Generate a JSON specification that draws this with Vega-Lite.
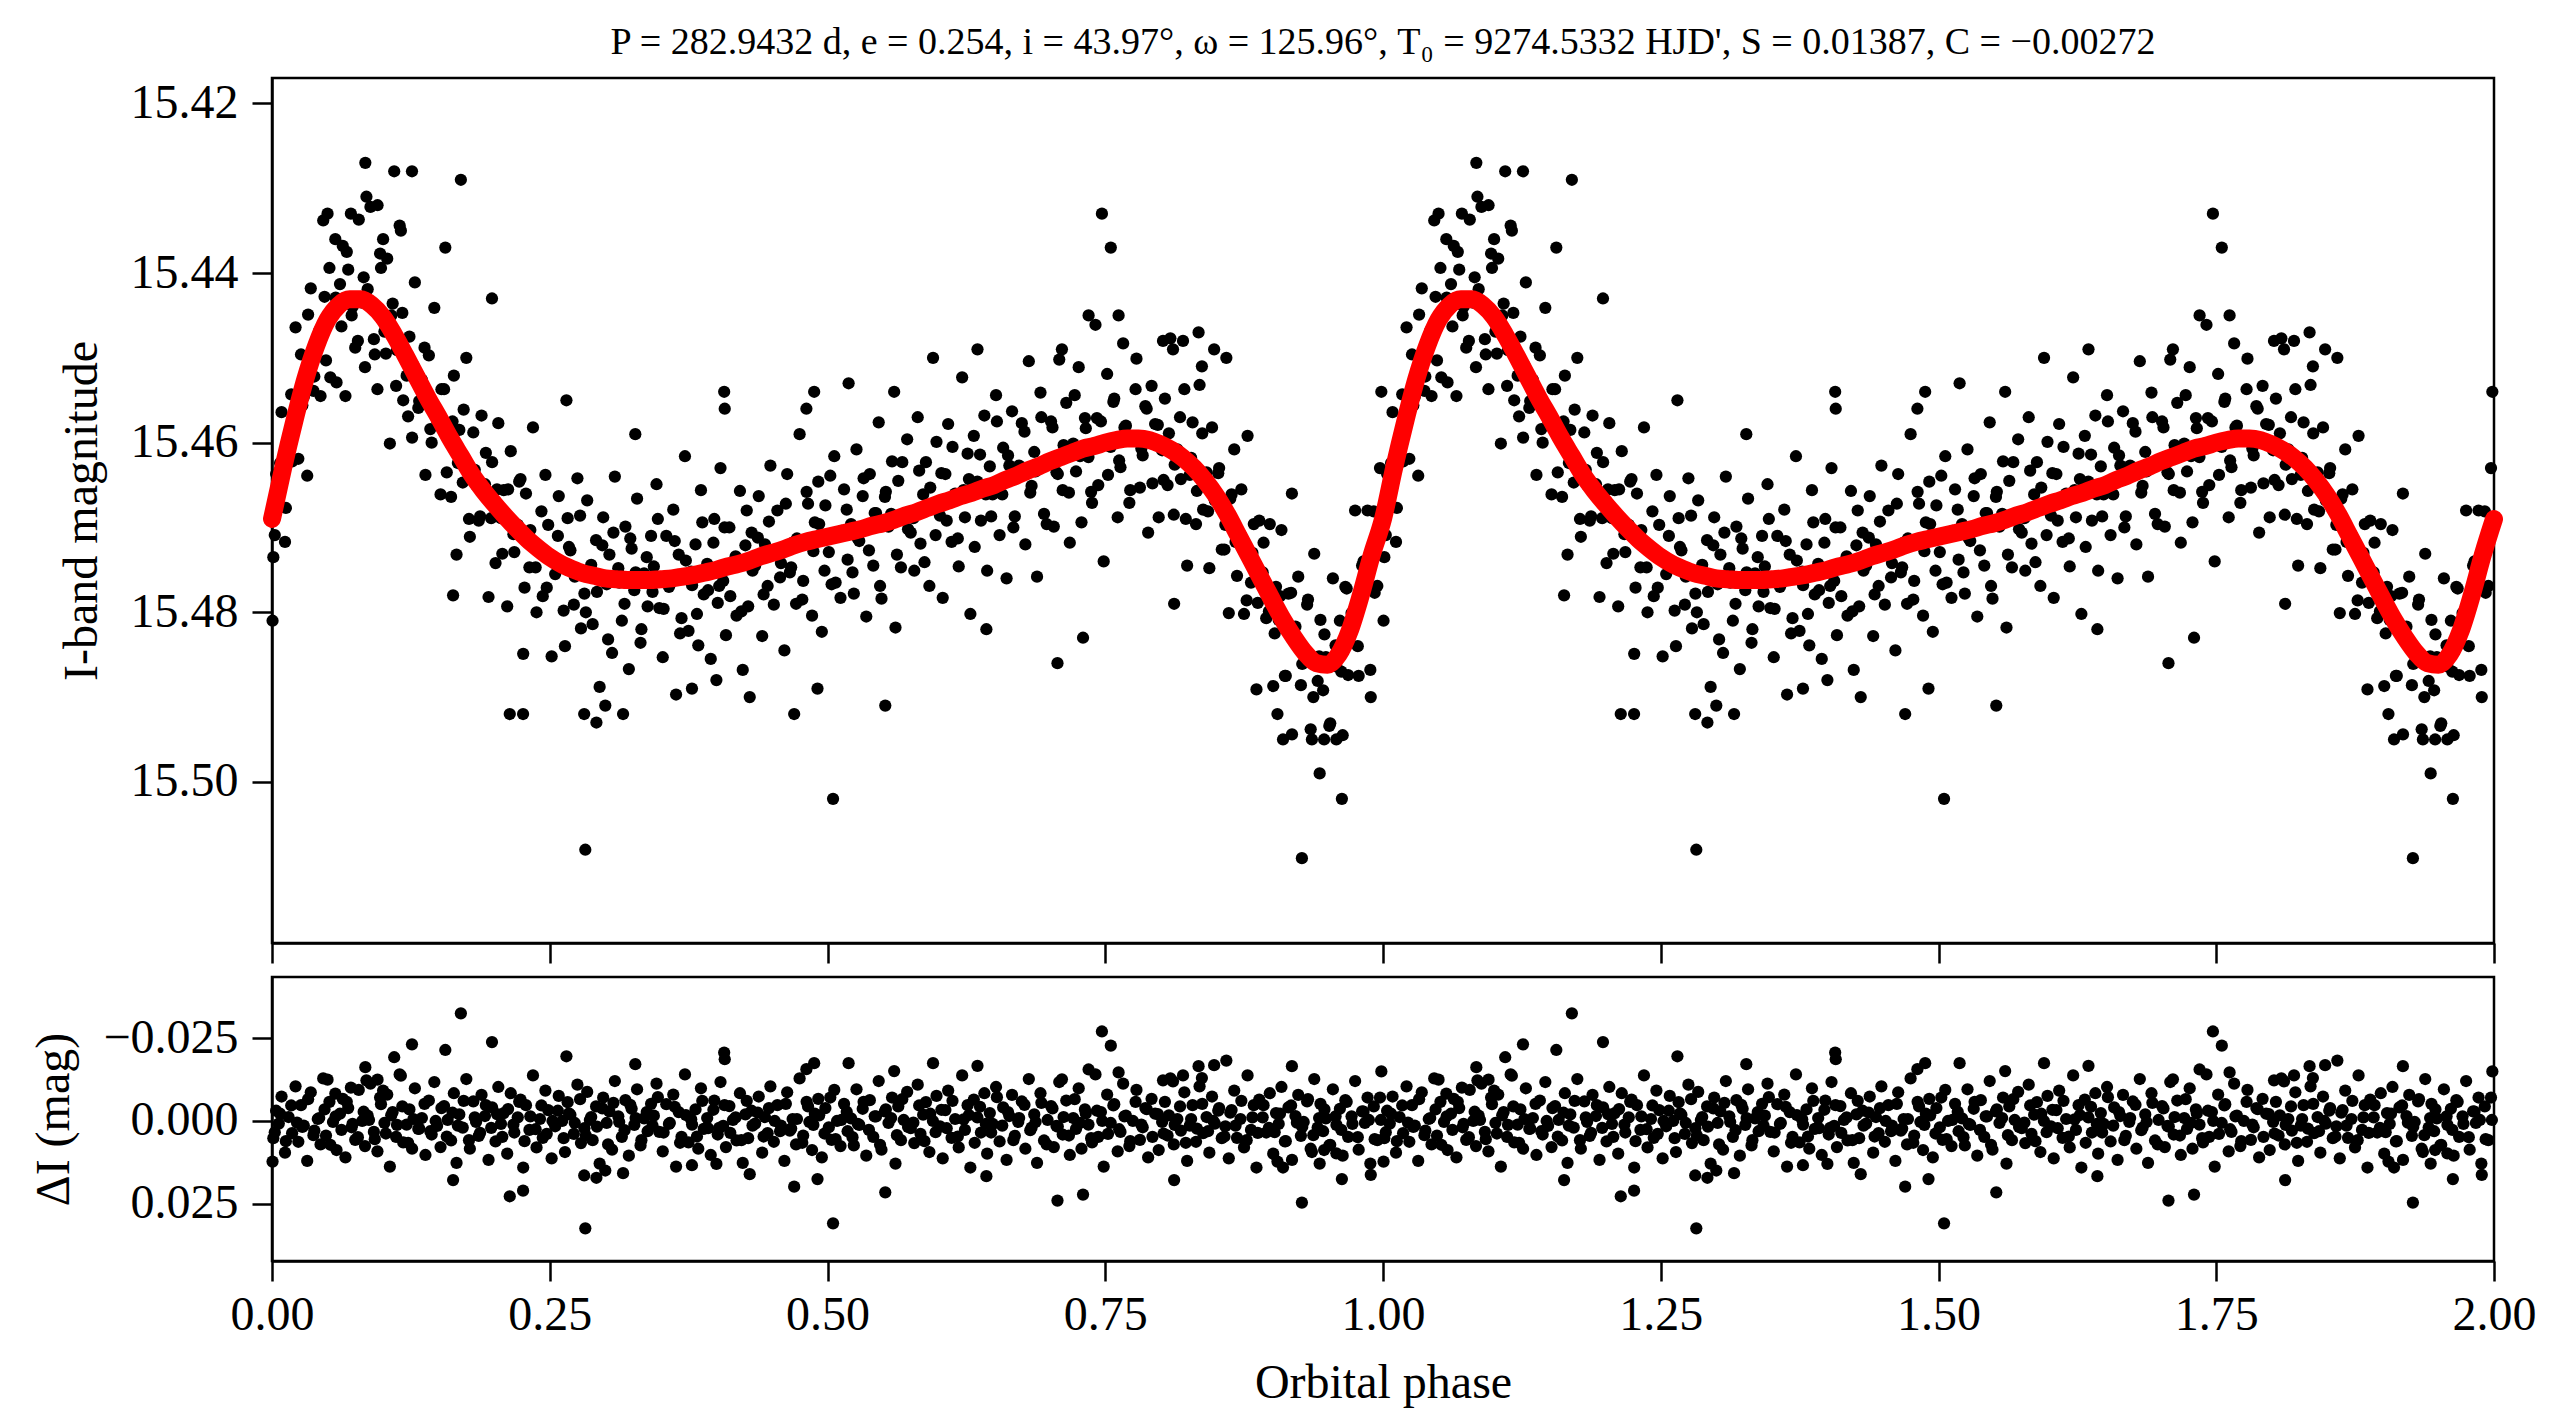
{
  "$schema": "https://vega.github.io/schema/vega-lite/v6.json",
  "background": "white",
  "padding": {"left": 29, "top": 22, "right": 36, "bottom": 10},
  "spacing": 9,
  "config": {
    "font": "Liberation Serif",
    "view": {"stroke": "black", "strokeWidth": 2.5},
    "axis": {
      "labelFont": "Liberation Serif",
      "titleFont": "Liberation Serif",
      "labelFontSize": 48,
      "titleFontSize": 48,
      "titleFontWeight": "normal",
      "labelColor": "black",
      "titleColor": "black",
      "domainColor": "black",
      "domainWidth": 2.5,
      "tickColor": "black",
      "tickWidth": 2.5,
      "tickSize": 20,
      "grid": false,
      "labelFlush": false,
      "labelOverlap": false,
      "labelPadding": 10,
      "titlePadding": 20
    },
    "axisY": {"labelPadding": 14, "titlePadding": 24}
  },
  "datasets": {
    "obs": [
      {"ph":0.0012,"mag":15.4735,"dI":0.0052},{"ph":0.0037,"mag":15.4637,"dI":-0.0031},{"ph":0.0061,"mag":15.4661,"dI":0.0008},{"ph":0.0086,"mag":15.4564,"dI":-0.0074},
      {"ph":0.0117,"mag":15.4717,"dI":0.0096},{"ph":0.0149,"mag":15.4591,"dI":-0.0012},{"ph":0.0181,"mag":15.4622,"dI":0.0037},
      {"ph":0.0212,"mag":15.4464,"dI":-0.0105},{"ph":0.0237,"mag":15.4619,"dI":0.0063},{"ph":0.0261,"mag":15.4496,"dI":-0.0048},{"ph":0.0286,"mag":15.4546,"dI":0.0014},
      {"ph":0.0317,"mag":15.4639,"dI":0.0121},{"ph":0.0349,"mag":15.4418,"dI":-0.0087},{"ph":0.0381,"mag":15.4522,"dI":0.0029},
      {"ph":0.0412,"mag":15.4475,"dI":-0.0006},{"ph":0.0437,"mag":15.4545,"dI":0.0071},{"ph":0.0461,"mag":15.4338,"dI":-0.0129},{"ph":0.0486,"mag":15.4503,"dI":0.0044},
      {"ph":0.0517,"mag":15.4394,"dI":-0.0058},{"ph":0.0549,"mag":15.4450,"dI":0.0003},{"ph":0.0581,"mag":15.4529,"dI":0.0088},
      {"ph":0.0612,"mag":15.4413,"dI":-0.0022},{"ph":0.0637,"mag":15.4368,"dI":-0.0067},{"ph":0.0661,"mag":15.4545,"dI":0.0110},{"ph":0.0686,"mag":15.4396,"dI":-0.0039},
      {"ph":0.0717,"mag":15.4450,"dI":0.0019},{"ph":0.0749,"mag":15.4488,"dI":0.0057},{"ph":0.0781,"mag":15.4337,"dI":-0.0094},
      {"ph":0.0812,"mag":15.4435,"dI":0},{"ph":0.0837,"mag":15.4511,"dI":0.0076},{"ph":0.0861,"mag":15.4419,"dI":-0.0016},{"ph":0.0886,"mag":15.4322,"dI":-0.0113},
      {"ph":0.0917,"mag":15.4478,"dI":0.0033},{"ph":0.0949,"mag":15.4537,"dI":0.0092},{"ph":0.0981,"mag":15.4394,"dI":-0.0051},
      {"ph":0.1012,"mag":15.4469,"dI":0.0006},{"ph":0.1037,"mag":15.4383,"dI":-0.0080},{"ph":0.1061,"mag":15.4601,"dI":0.0138},{"ph":0.1086,"mag":15.4436,"dI":-0.0027},
      {"ph":0.1117,"mag":15.4533,"dI":0.0048},{"ph":0.1149,"mag":15.4344,"dI":-0.0141},{"ph":0.1181,"mag":15.4550,"dI":0.0065},
      {"ph":0.1212,"mag":15.4521,"dI":0.0011},{"ph":0.1237,"mag":15.4475,"dI":-0.0035},{"ph":0.1261,"mag":15.4594,"dI":0.0084},{"ph":0.1286,"mag":15.4411,"dI":-0.0099},
      {"ph":0.1317,"mag":15.4559,"dI":0.0024},{"ph":0.1349,"mag":15.4526,"dI":-0.0009},{"ph":0.1381,"mag":15.4638,"dI":0.0103},
      {"ph":0.1412,"mag":15.4497,"dI":-0.0062},{"ph":0.1437,"mag":15.4600,"dI":0.0041},{"ph":0.1461,"mag":15.4441,"dI":-0.0118},{"ph":0.1486,"mag":15.4574,"dI":0.0015},
      {"ph":0.1517,"mag":15.4661,"dI":0.0079},{"ph":0.1549,"mag":15.4537,"dI":-0.0045},{"ph":0.1581,"mag":15.4579,"dI":-0.0003},
      {"ph":0.1612,"mag":15.4664,"dI":0.0059},{"ph":0.1637,"mag":15.4521,"dI":-0.0084},{"ph":0.1661,"mag":15.4732,"dI":0.0127},{"ph":0.1686,"mag":15.4585,"dI":-0.0020},
      {"ph":0.1717,"mag":15.4647,"dI":0.0020},{"ph":0.1749,"mag":15.4500,"dI":-0.0127},{"ph":0.1781,"mag":15.4711,"dI":0.0084},
      {"ph":0.1812,"mag":15.4588,"dI":-0.0059},{"ph":0.1837,"mag":15.4650,"dI":0.0003},{"ph":0.1861,"mag":15.4692,"dI":0.0045},{"ph":0.1886,"mag":15.4568,"dI":-0.0079},
      {"ph":0.1917,"mag":15.4649,"dI":-0.0015},{"ph":0.1949,"mag":15.4782,"dI":0.0118},{"ph":0.1981,"mag":15.4623,"dI":-0.0041},
      {"ph":0.2012,"mag":15.4742,"dI":0.0062},{"ph":0.2037,"mag":15.4577,"dI":-0.0103},{"ph":0.2061,"mag":15.4689,"dI":0.0009},{"ph":0.2086,"mag":15.4656,"dI":-0.0024},
      {"ph":0.2117,"mag":15.4793,"dI":0.0099},{"ph":0.2149,"mag":15.4610,"dI":-0.0084},{"ph":0.2181,"mag":15.4729,"dI":0.0035},
      {"ph":0.2212,"mag":15.4697,"dI":-0.0011},{"ph":0.2237,"mag":15.4643,"dI":-0.0065},{"ph":0.2261,"mag":15.4849,"dI":0.0141},{"ph":0.2286,"mag":15.4660,"dI":-0.0048},
      {"ph":0.2317,"mag":15.4747,"dI":0.0027},{"ph":0.2349,"mag":15.4582,"dI":-0.0138},{"ph":0.2381,"mag":15.4800,"dI":0.0080},
      {"ph":0.2412,"mag":15.4724,"dI":-0.0006},{"ph":0.2437,"mag":15.4781,"dI":0.0051},{"ph":0.2461,"mag":15.4638,"dI":-0.0092},{"ph":0.2486,"mag":15.4697,"dI":-0.0033},
      {"ph":0.2517,"mag":15.4852,"dI":0.0113},{"ph":0.2549,"mag":15.4755,"dI":0.0016},{"ph":0.2581,"mag":15.4663,"dI":-0.0076},
      {"ph":0.2612,"mag":15.4746,"dI":0},{"ph":0.2637,"mag":15.4840,"dI":0.0094},{"ph":0.2661,"mag":15.4689,"dI":-0.0057},{"ph":0.2686,"mag":15.4727,"dI":-0.0019},
      {"ph":0.2717,"mag":15.4791,"dI":0.0039},{"ph":0.2749,"mag":15.4642,"dI":-0.0110},{"ph":0.2781,"mag":15.4819,"dI":0.0067},
      {"ph":0.2812,"mag":15.4778,"dI":0.0022},{"ph":0.2837,"mag":15.4668,"dI":-0.0088},{"ph":0.2861,"mag":15.4753,"dI":-0.0003},{"ph":0.2886,"mag":15.4814,"dI":0.0058},
      {"ph":0.2917,"mag":15.4715,"dI":-0.0044},{"ph":0.2949,"mag":15.4888,"dI":0.0129},{"ph":0.2981,"mag":15.4688,"dI":-0.0071},
      {"ph":0.3012,"mag":15.4767,"dI":0.0006},{"ph":0.3037,"mag":15.4732,"dI":-0.0029},{"ph":0.3061,"mag":15.4848,"dI":0.0087},{"ph":0.3086,"mag":15.4640,"dI":-0.0121},
      {"ph":0.3117,"mag":15.4748,"dI":-0.0014},{"ph":0.3149,"mag":15.4810,"dI":0.0048},{"ph":0.3181,"mag":15.4699,"dI":-0.0063},
      {"ph":0.3212,"mag":15.4867,"dI":0.0105},{"ph":0.3237,"mag":15.4725,"dI":-0.0037},{"ph":0.3261,"mag":15.4774,"dI":0.0012},{"ph":0.3286,"mag":15.4666,"dI":-0.0096},
      {"ph":0.3317,"mag":15.4836,"dI":0.0074},{"ph":0.3349,"mag":15.4754,"dI":-0.0008},{"ph":0.3381,"mag":15.4793,"dI":0.0031},
      {"ph":0.3412,"mag":15.4710,"dI":-0.0052},{"ph":0.3437,"mag":15.4746,"dI":-0.0016},{"ph":0.3461,"mag":15.4649,"dI":-0.0113},{"ph":0.3486,"mag":15.4795,"dI":0.0033},
      {"ph":0.3517,"mag":15.4853,"dI":0.0092},{"ph":0.3549,"mag":15.4710,"dI":-0.0051},{"ph":0.3581,"mag":15.4767,"dI":0.0006},
      {"ph":0.3612,"mag":15.4679,"dI":-0.0080},{"ph":0.3637,"mag":15.4897,"dI":0.0138},{"ph":0.3661,"mag":15.4732,"dI":-0.0027},{"ph":0.3686,"mag":15.4807,"dI":0.0048},
      {"ph":0.3717,"mag":15.4616,"dI":-0.0141},{"ph":0.3749,"mag":15.4822,"dI":0.0065},{"ph":0.3781,"mag":15.4768,"dI":0.0011},
      {"ph":0.3812,"mag":15.4720,"dI":-0.0035},{"ph":0.3837,"mag":15.4839,"dI":0.0084},{"ph":0.3861,"mag":15.4656,"dI":-0.0099},{"ph":0.3886,"mag":15.4779,"dI":0.0024},
      {"ph":0.3917,"mag":15.4743,"dI":-0.0009},{"ph":0.3949,"mag":15.4855,"dI":0.0103},{"ph":0.3981,"mag":15.4690,"dI":-0.0062},
      {"ph":0.4012,"mag":15.4789,"dI":0.0041},{"ph":0.4037,"mag":15.4630,"dI":-0.0118},{"ph":0.4061,"mag":15.4763,"dI":0.0015},{"ph":0.4086,"mag":15.4827,"dI":0.0079},
      {"ph":0.4117,"mag":15.4700,"dI":-0.0045},{"ph":0.4149,"mag":15.4742,"dI":-0.0003},{"ph":0.4181,"mag":15.4804,"dI":0.0059},
      {"ph":0.4212,"mag":15.4657,"dI":-0.0084},{"ph":0.4237,"mag":15.4868,"dI":0.0127},{"ph":0.4261,"mag":15.4721,"dI":-0.0020},{"ph":0.4286,"mag":15.4793,"dI":0.0052},
      {"ph":0.4317,"mag":15.4706,"dI":-0.0031},{"ph":0.4349,"mag":15.4745,"dI":0.0008},{"ph":0.4381,"mag":15.4663,"dI":-0.0074},
      {"ph":0.4412,"mag":15.4828,"dI":0.0096},{"ph":0.4437,"mag":15.4720,"dI":-0.0012},{"ph":0.4461,"mag":15.4769,"dI":0.0037},{"ph":0.4486,"mag":15.4627,"dI":-0.0105},
      {"ph":0.4517,"mag":15.4791,"dI":0.0063},{"ph":0.4549,"mag":15.4680,"dI":-0.0048},{"ph":0.4581,"mag":15.4742,"dI":0.0014},
      {"ph":0.4612,"mag":15.4845,"dI":0.0121},{"ph":0.4637,"mag":15.4637,"dI":-0.0087},{"ph":0.4661,"mag":15.4753,"dI":0.0029},{"ph":0.4686,"mag":15.4718,"dI":-0.0006},
      {"ph":0.4717,"mag":15.4790,"dI":0.0071},{"ph":0.4749,"mag":15.4590,"dI":-0.0129},{"ph":0.4781,"mag":15.4763,"dI":0.0044},
      {"ph":0.4812,"mag":15.4658,"dI":-0.0058},{"ph":0.4837,"mag":15.4719,"dI":0.0003},{"ph":0.4861,"mag":15.4804,"dI":0.0088},{"ph":0.4886,"mag":15.4694,"dI":-0.0022},
      {"ph":0.4917,"mag":15.4646,"dI":-0.0067},{"ph":0.4949,"mag":15.4823,"dI":0.0110},{"ph":0.4981,"mag":15.4674,"dI":-0.0039},
      {"ph":0.5012,"mag":15.4729,"dI":0.0019},{"ph":0.5037,"mag":15.4767,"dI":0.0057},{"ph":0.5061,"mag":15.4616,"dI":-0.0094},{"ph":0.5086,"mag":15.4710,"dI":0},
      {"ph":0.5117,"mag":15.4783,"dI":0.0076},{"ph":0.5149,"mag":15.4655,"dI":-0.0052},{"ph":0.5181,"mag":15.4738,"dI":0.0031},
      {"ph":0.5212,"mag":15.4696,"dI":-0.0008},{"ph":0.5237,"mag":15.4778,"dI":0.0074},{"ph":0.5261,"mag":15.4608,"dI":-0.0096},{"ph":0.5286,"mag":15.4716,"dI":0.0012},
      {"ph":0.5317,"mag":15.4663,"dI":-0.0037},{"ph":0.5349,"mag":15.4805,"dI":0.0105},{"ph":0.5381,"mag":15.4637,"dI":-0.0063},
      {"ph":0.5412,"mag":15.4745,"dI":0.0048},{"ph":0.5437,"mag":15.4683,"dI":-0.0014},{"ph":0.5461,"mag":15.4576,"dI":-0.0121},{"ph":0.5486,"mag":15.4784,"dI":0.0087},
      {"ph":0.5517,"mag":15.4664,"dI":-0.0029},{"ph":0.5549,"mag":15.4699,"dI":0.0006},{"ph":0.5581,"mag":15.4622,"dI":-0.0071},
      {"ph":0.5612,"mag":15.4818,"dI":0.0129},{"ph":0.5637,"mag":15.4645,"dI":-0.0044},{"ph":0.5661,"mag":15.4747,"dI":0.0058},{"ph":0.5686,"mag":15.4686,"dI":-0.0003},
      {"ph":0.5717,"mag":15.4596,"dI":-0.0088},{"ph":0.5749,"mag":15.4706,"dI":0.0022},{"ph":0.5781,"mag":15.4751,"dI":0.0067},
      {"ph":0.5812,"mag":15.4570,"dI":-0.0110},{"ph":0.5837,"mag":15.4719,"dI":0.0039},{"ph":0.5861,"mag":15.4661,"dI":-0.0019},{"ph":0.5886,"mag":15.4623,"dI":-0.0057},
      {"ph":0.5917,"mag":15.4769,"dI":0.0094},{"ph":0.5949,"mag":15.4675,"dI":0},{"ph":0.5981,"mag":15.4599,"dI":-0.0076},
      {"ph":0.6012,"mag":15.4686,"dI":0.0016},{"ph":0.6037,"mag":15.4783,"dI":0.0113},{"ph":0.6061,"mag":15.4637,"dI":-0.0033},{"ph":0.6086,"mag":15.4578,"dI":-0.0092},
      {"ph":0.6117,"mag":15.4717,"dI":0.0051},{"ph":0.6149,"mag":15.4660,"dI":-0.0006},{"ph":0.6181,"mag":15.4746,"dI":0.0080},
      {"ph":0.6212,"mag":15.4523,"dI":-0.0138},{"ph":0.6237,"mag":15.4688,"dI":0.0027},{"ph":0.6261,"mag":15.4613,"dI":-0.0048},{"ph":0.6286,"mag":15.4802,"dI":0.0141},
      {"ph":0.6317,"mag":15.4592,"dI":-0.0065},{"ph":0.6349,"mag":15.4646,"dI":-0.0011},{"ph":0.6381,"mag":15.4692,"dI":0.0035},
      {"ph":0.6412,"mag":15.4568,"dI":-0.0084},{"ph":0.6437,"mag":15.4751,"dI":0.0099},{"ph":0.6461,"mag":15.4628,"dI":-0.0024},{"ph":0.6486,"mag":15.4661,"dI":0.0009},
      {"ph":0.6517,"mag":15.4544,"dI":-0.0103},{"ph":0.6549,"mag":15.4709,"dI":0.0062},{"ph":0.6581,"mag":15.4606,"dI":-0.0041},
      {"ph":0.6612,"mag":15.4760,"dI":0.0118},{"ph":0.6637,"mag":15.4627,"dI":-0.0015},{"ph":0.6661,"mag":15.4563,"dI":-0.0079},{"ph":0.6686,"mag":15.4687,"dI":0.0045},
      {"ph":0.6717,"mag":15.4639,"dI":0.0003},{"ph":0.6749,"mag":15.4577,"dI":-0.0059},{"ph":0.6781,"mag":15.4720,"dI":0.0084},
      {"ph":0.6812,"mag":15.4504,"dI":-0.0127},{"ph":0.6837,"mag":15.4651,"dI":0.0020},{"ph":0.6861,"mag":15.4611,"dI":-0.0020},{"ph":0.6886,"mag":15.4758,"dI":0.0127},
      {"ph":0.6917,"mag":15.4541,"dI":-0.0084},{"ph":0.6949,"mag":15.4684,"dI":0.0059},{"ph":0.6981,"mag":15.4622,"dI":-0.0003},
      {"ph":0.7012,"mag":15.4575,"dI":-0.0045},{"ph":0.7037,"mag":15.4699,"dI":0.0079},{"ph":0.7061,"mag":15.4635,"dI":0.0015},{"ph":0.7086,"mag":15.4502,"dI":-0.0118},
      {"ph":0.7117,"mag":15.4656,"dI":0.0041},{"ph":0.7149,"mag":15.4553,"dI":-0.0062},{"ph":0.7181,"mag":15.4718,"dI":0.0103},
      {"ph":0.7212,"mag":15.4601,"dI":-0.0009},{"ph":0.7237,"mag":15.4634,"dI":0.0024},{"ph":0.7261,"mag":15.4511,"dI":-0.0099},{"ph":0.7286,"mag":15.4694,"dI":0.0084},
      {"ph":0.7317,"mag":15.4571,"dI":-0.0035},{"ph":0.7349,"mag":15.4617,"dI":0.0011},{"ph":0.7381,"mag":15.4671,"dI":0.0065},
      {"ph":0.7412,"mag":15.4461,"dI":-0.0141},{"ph":0.7437,"mag":15.4650,"dI":0.0048},{"ph":0.7461,"mag":15.4575,"dI":-0.0027},{"ph":0.7486,"mag":15.4740,"dI":0.0138},
      {"ph":0.7517,"mag":15.4519,"dI":-0.0080},{"ph":0.7549,"mag":15.4605,"dI":0.0006},{"ph":0.7581,"mag":15.4548,"dI":-0.0051},
      {"ph":0.7612,"mag":15.4688,"dI":0.0092},{"ph":0.7637,"mag":15.4629,"dI":0.0033},{"ph":0.7661,"mag":15.4483,"dI":-0.0113},{"ph":0.7686,"mag":15.4580,"dI":-0.0016},
      {"ph":0.7717,"mag":15.4671,"dI":0.0076},{"ph":0.7749,"mag":15.4595,"dI":0},{"ph":0.7781,"mag":15.4501,"dI":-0.0094},
      {"ph":0.7812,"mag":15.4653,"dI":0.0057},{"ph":0.7837,"mag":15.4615,"dI":0.0019},{"ph":0.7861,"mag":15.4557,"dI":-0.0039},{"ph":0.7886,"mag":15.4706,"dI":0.0110},
      {"ph":0.7917,"mag":15.4533,"dI":-0.0067},{"ph":0.7949,"mag":15.4578,"dI":-0.0022},{"ph":0.7981,"mag":15.4688,"dI":0.0088},
      {"ph":0.8012,"mag":15.4609,"dI":0.0003},{"ph":0.8037,"mag":15.4548,"dI":-0.0058},{"ph":0.8061,"mag":15.4650,"dI":0.0044},{"ph":0.8086,"mag":15.4477,"dI":-0.0129},
      {"ph":0.8117,"mag":15.4685,"dI":0.0071},{"ph":0.8149,"mag":15.4608,"dI":-0.0006},{"ph":0.8181,"mag":15.4643,"dI":0.0029},
      {"ph":0.8212,"mag":15.4537,"dI":-0.0087},{"ph":0.8237,"mag":15.4745,"dI":0.0121},{"ph":0.8261,"mag":15.4638,"dI":0.0014},{"ph":0.8286,"mag":15.4576,"dI":-0.0048},
      {"ph":0.8317,"mag":15.4696,"dI":0.0063},{"ph":0.8349,"mag":15.4532,"dI":-0.0105},{"ph":0.8381,"mag":15.4679,"dI":0.0037},
      {"ph":0.8412,"mag":15.4635,"dI":-0.0012},{"ph":0.8437,"mag":15.4748,"dI":0.0096},{"ph":0.8461,"mag":15.4582,"dI":-0.0074},{"ph":0.8486,"mag":15.4668,"dI":0.0008},
      {"ph":0.8517,"mag":15.4636,"dI":-0.0031},{"ph":0.8549,"mag":15.4726,"dI":0.0052},{"ph":0.8581,"mag":15.4697,"dI":0.0016},
      {"ph":0.8612,"mag":15.4801,"dI":0.0113},{"ph":0.8637,"mag":15.4661,"dI":-0.0033},{"ph":0.8661,"mag":15.4608,"dI":-0.0092},{"ph":0.8686,"mag":15.4757,"dI":0.0051},
      {"ph":0.8717,"mag":15.4708,"dI":-0.0006},{"ph":0.8749,"mag":15.4802,"dI":0.0080},{"ph":0.8781,"mag":15.4592,"dI":-0.0138},
      {"ph":0.8812,"mag":15.4765,"dI":0.0027},{"ph":0.8837,"mag":15.4696,"dI":-0.0048},{"ph":0.8861,"mag":15.4891,"dI":0.0141},{"ph":0.8886,"mag":15.4692,"dI":-0.0065},
      {"ph":0.8917,"mag":15.4753,"dI":-0.0011},{"ph":0.8949,"mag":15.4807,"dI":0.0035},{"ph":0.8981,"mag":15.4696,"dI":-0.0084},
      {"ph":0.9012,"mag":15.4887,"dI":0.0099},{"ph":0.9037,"mag":15.4770,"dI":-0.0024},{"ph":0.9061,"mag":15.4809,"dI":0.0009},{"ph":0.9086,"mag":15.4703,"dI":-0.0103},
      {"ph":0.9117,"mag":15.4875,"dI":0.0062},{"ph":0.9149,"mag":15.4778,"dI":-0.0041},{"ph":0.9181,"mag":15.4944,"dI":0.0118},
      {"ph":0.9212,"mag":15.4817,"dI":-0.0015},{"ph":0.9237,"mag":15.4758,"dI":-0.0079},{"ph":0.9261,"mag":15.4886,"dI":0.0045},{"ph":0.9286,"mag":15.4848,"dI":0.0003},
      {"ph":0.9317,"mag":15.4791,"dI":-0.0059},{"ph":0.9349,"mag":15.4938,"dI":0.0084},{"ph":0.9381,"mag":15.4731,"dI":-0.0127},
      {"ph":0.9412,"mag":15.4881,"dI":0.0020},{"ph":0.9437,"mag":15.4809,"dI":-0.0052},{"ph":0.9461,"mag":15.4892,"dI":0.0031},{"ph":0.9486,"mag":15.4853,"dI":-0.0008},
      {"ph":0.9517,"mag":15.4934,"dI":0.0074},{"ph":0.9549,"mag":15.4760,"dI":-0.0096},{"ph":0.9581,"mag":15.4864,"dI":0.0012},
      {"ph":0.9612,"mag":15.4810,"dI":-0.0037},{"ph":0.9637,"mag":15.4945,"dI":0.0105},{"ph":0.9661,"mag":15.4770,"dI":-0.0063},{"ph":0.9686,"mag":15.4874,"dI":0.0048},
      {"ph":0.9717,"mag":15.4801,"dI":-0.0014},{"ph":0.9749,"mag":15.4680,"dI":-0.0121},{"ph":0.9781,"mag":15.4875,"dI":0.0087},
      {"ph":0.9812,"mag":15.4745,"dI":-0.0029},{"ph":0.9837,"mag":15.4768,"dI":0.0006},{"ph":0.9861,"mag":15.4680,"dI":-0.0071},{"ph":0.9886,"mag":15.4868,"dI":0.0129},
      {"ph":0.9917,"mag":15.4681,"dI":-0.0044},{"ph":0.9949,"mag":15.4769,"dI":0.0058},{"ph":0.9981,"mag":15.4695,"dI":-0.0003},
      {"ph":0.0025,"mag":15.4709,"dI":0.0034},{"ph":0.0073,"mag":15.4624,"dI":-0.0022},{"ph":0.0125,"mag":15.4677,"dI":0.0061},{"ph":0.0173,"mag":15.4543,"dI":-0.0047},
      {"ph":0.0225,"mag":15.4568,"dI":0.0005},{"ph":0.0273,"mag":15.4556,"dI":0.0018},{"ph":0.0325,"mag":15.4449,"dI":-0.0066},{"ph":0.0373,"mag":15.4539,"dI":0.0043},
      {"ph":0.0425,"mag":15.4468,"dI":-0.0009},{"ph":0.0473,"mag":15.4428,"dI":-0.0035},{"ph":0.0525,"mag":15.4523,"dI":0.0072},{"ph":0.0573,"mag":15.4429,"dI":-0.0014},
      {"ph":0.0625,"mag":15.4463,"dI":0.0027},{"ph":0.0673,"mag":15.4375,"dI":-0.0058},{"ph":0.0725,"mag":15.4440,"dI":0.0009},{"ph":0.0773,"mag":15.4480,"dI":0.0049},
      {"ph":0.0825,"mag":15.4405,"dI":-0.0028},{"ph":0.0873,"mag":15.4433,"dI":-0.0003},{"ph":0.0925,"mag":15.4496,"dI":0.0055},{"ph":0.0973,"mag":15.4377,"dI":-0.0071},
      {"ph":0.1025,"mag":15.4495,"dI":0.0038},{"ph":0.1073,"mag":15.4450,"dI":-0.0017},{"ph":0.1125,"mag":15.4491,"dI":0.0012},{"ph":0.1173,"mag":15.4447,"dI":-0.0044},
      {"ph":0.1225,"mag":15.4569,"dI":0.0066},{"ph":0.1273,"mag":15.4509,"dI":-0.0006},{"ph":0.1325,"mag":15.4551,"dI":0.0023},{"ph":0.1373,"mag":15.4488,"dI":-0.0052},
      {"ph":0.1425,"mag":15.4584,"dI":0.0031},{"ph":0.1473,"mag":15.4564,"dI":0},{"ph":0.1525,"mag":15.4537,"dI":-0.0039},{"ph":0.1573,"mag":15.4635,"dI":0.0047},
      {"ph":0.1625,"mag":15.4575,"dI":-0.0025},{"ph":0.1673,"mag":15.4624,"dI":0.0014},{"ph":0.1725,"mag":15.4561,"dI":-0.0061},{"ph":0.1773,"mag":15.4690,"dI":0.0058},
      {"ph":0.1825,"mag":15.4632,"dI":-0.0011},{"ph":0.1873,"mag":15.4687,"dI":0.0036},{"ph":0.1925,"mag":15.4612,"dI":-0.0048},{"ph":0.1973,"mag":15.4689,"dI":0.0021},
      {"ph":0.2025,"mag":15.4655,"dI":-0.0021},{"ph":0.2073,"mag":15.4731,"dI":0.0048},{"ph":0.2125,"mag":15.4655,"dI":-0.0036},{"ph":0.2173,"mag":15.4708,"dI":0.0011},
      {"ph":0.2225,"mag":15.4646,"dI":-0.0058},{"ph":0.2273,"mag":15.4771,"dI":0.0061},{"ph":0.2325,"mag":15.4703,"dI":-0.0014},{"ph":0.2373,"mag":15.4747,"dI":0.0025},
      {"ph":0.2425,"mag":15.4681,"dI":-0.0047},{"ph":0.2473,"mag":15.4771,"dI":0.0039},{"ph":0.2525,"mag":15.4737,"dI":0},{"ph":0.2573,"mag":15.4710,"dI":-0.0031},
      {"ph":0.2625,"mag":15.4798,"dI":0.0052},{"ph":0.2673,"mag":15.4723,"dI":-0.0023},{"ph":0.2725,"mag":15.4758,"dI":0.0006},{"ph":0.2773,"mag":15.4686,"dI":-0.0066},
      {"ph":0.2825,"mag":15.4800,"dI":0.0044},{"ph":0.2873,"mag":15.4744,"dI":-0.0012},{"ph":0.2925,"mag":15.4776,"dI":0.0017},{"ph":0.2973,"mag":15.4721,"dI":-0.0038},
      {"ph":0.3025,"mag":15.4832,"dI":0.0071},{"ph":0.3073,"mag":15.4706,"dI":-0.0055},{"ph":0.3125,"mag":15.4765,"dI":0.0003},{"ph":0.3173,"mag":15.4790,"dI":0.0028},
      {"ph":0.3225,"mag":15.4713,"dI":-0.0049},{"ph":0.3273,"mag":15.4753,"dI":-0.0009},{"ph":0.3325,"mag":15.4820,"dI":0.0058},{"ph":0.3373,"mag":15.4735,"dI":-0.0027},
      {"ph":0.3425,"mag":15.4776,"dI":0.0014},{"ph":0.3473,"mag":15.4690,"dI":-0.0072},{"ph":0.3525,"mag":15.4796,"dI":0.0035},{"ph":0.3573,"mag":15.4770,"dI":0.0009},
      {"ph":0.3625,"mag":15.4716,"dI":-0.0043},{"ph":0.3673,"mag":15.4825,"dI":0.0066},{"ph":0.3725,"mag":15.4739,"dI":-0.0018},{"ph":0.3773,"mag":15.4752,"dI":-0.0005},
      {"ph":0.3825,"mag":15.4802,"dI":0.0047},{"ph":0.3873,"mag":15.4694,"dI":-0.0061},{"ph":0.3925,"mag":15.4774,"dI":0.0022},{"ph":0.3973,"mag":15.4718,"dI":-0.0034},
      {"ph":0.4025,"mag":15.4769,"dI":0.0021},{"ph":0.4073,"mag":15.4700,"dI":-0.0048},{"ph":0.4125,"mag":15.4781,"dI":0.0036},{"ph":0.4173,"mag":15.4734,"dI":-0.0011},
      {"ph":0.4225,"mag":15.4799,"dI":0.0058},{"ph":0.4273,"mag":15.4680,"dI":-0.0061},{"ph":0.4325,"mag":15.4751,"dI":0.0014},{"ph":0.4373,"mag":15.4712,"dI":-0.0025},
      {"ph":0.4425,"mag":15.4779,"dI":0.0047},{"ph":0.4473,"mag":15.4693,"dI":-0.0039},{"ph":0.4525,"mag":15.4728,"dI":0},{"ph":0.4573,"mag":15.4759,"dI":0.0031},
      {"ph":0.4625,"mag":15.4672,"dI":-0.0052},{"ph":0.4673,"mag":15.4747,"dI":0.0023},{"ph":0.4725,"mag":15.4713,"dI":-0.0006},{"ph":0.4773,"mag":15.4785,"dI":0.0066},
      {"ph":0.4825,"mag":15.4672,"dI":-0.0044},{"ph":0.4873,"mag":15.4728,"dI":0.0012},{"ph":0.4925,"mag":15.4696,"dI":-0.0017},{"ph":0.4973,"mag":15.4751,"dI":0.0038},
      {"ph":0.5025,"mag":15.4639,"dI":-0.0071},{"ph":0.5073,"mag":15.4765,"dI":0.0055},{"ph":0.5125,"mag":15.4704,"dI":-0.0003},{"ph":0.5173,"mag":15.4679,"dI":-0.0028},
      {"ph":0.5225,"mag":15.4753,"dI":0.0049},{"ph":0.5273,"mag":15.4713,"dI":0.0009},{"ph":0.5325,"mag":15.4642,"dI":-0.0058},{"ph":0.5373,"mag":15.4727,"dI":0.0027},
      {"ph":0.5425,"mag":15.4683,"dI":-0.0014},{"ph":0.5473,"mag":15.4769,"dI":0.0072},{"ph":0.5525,"mag":15.4658,"dI":-0.0035},{"ph":0.5573,"mag":15.4684,"dI":-0.0009},
      {"ph":0.5625,"mag":15.4732,"dI":0.0043},{"ph":0.5673,"mag":15.4623,"dI":-0.0066},{"ph":0.5725,"mag":15.4702,"dI":0.0018},{"ph":0.5773,"mag":15.4689,"dI":0.0005},
      {"ph":0.5825,"mag":15.4633,"dI":-0.0047},{"ph":0.5873,"mag":15.4741,"dI":0.0061},{"ph":0.5925,"mag":15.4653,"dI":-0.0022},{"ph":0.5973,"mag":15.4709,"dI":0.0034},
      {"ph":0.6025,"mag":15.4636,"dI":-0.0034},{"ph":0.6073,"mag":15.4692,"dI":0.0022},{"ph":0.6125,"mag":15.4605,"dI":-0.0061},{"ph":0.6173,"mag":15.4713,"dI":0.0047},
      {"ph":0.6225,"mag":15.4656,"dI":-0.0005},{"ph":0.6273,"mag":15.4643,"dI":-0.0018},{"ph":0.6325,"mag":15.4723,"dI":0.0066},{"ph":0.6373,"mag":15.4614,"dI":-0.0043},
      {"ph":0.6425,"mag":15.4661,"dI":0.0009},{"ph":0.6473,"mag":15.4687,"dI":0.0035},{"ph":0.6525,"mag":15.4575,"dI":-0.0072},{"ph":0.6573,"mag":15.4661,"dI":0.0014},
      {"ph":0.6625,"mag":15.4615,"dI":-0.0027},{"ph":0.6673,"mag":15.4700,"dI":0.0058},{"ph":0.6725,"mag":15.4627,"dI":-0.0009},{"ph":0.6773,"mag":15.4587,"dI":-0.0049},
      {"ph":0.6825,"mag":15.4659,"dI":0.0028},{"ph":0.6873,"mag":15.4634,"dI":0.0003},{"ph":0.6925,"mag":15.4570,"dI":-0.0055},{"ph":0.6973,"mag":15.4696,"dI":0.0071},
      {"ph":0.7025,"mag":15.4582,"dI":-0.0038},{"ph":0.7073,"mag":15.4637,"dI":0.0017},{"ph":0.7125,"mag":15.4603,"dI":-0.0012},{"ph":0.7173,"mag":15.4659,"dI":0.0044},
      {"ph":0.7225,"mag":15.4544,"dI":-0.0066},{"ph":0.7273,"mag":15.4616,"dI":0.0006},{"ph":0.7325,"mag":15.4583,"dI":-0.0023},{"ph":0.7373,"mag":15.4658,"dI":0.0052},
      {"ph":0.7425,"mag":15.4571,"dI":-0.0031},{"ph":0.7473,"mag":15.4602,"dI":0},{"ph":0.7525,"mag":15.4638,"dI":0.0039},{"ph":0.7573,"mag":15.4552,"dI":-0.0047},
      {"ph":0.7625,"mag":15.4621,"dI":0.0025},{"ph":0.7673,"mag":15.4582,"dI":-0.0014},{"ph":0.7725,"mag":15.4656,"dI":0.0061},{"ph":0.7773,"mag":15.4537,"dI":-0.0058},
      {"ph":0.7825,"mag":15.4607,"dI":0.0011},{"ph":0.7873,"mag":15.4560,"dI":-0.0036},{"ph":0.7925,"mag":15.4648,"dI":0.0048},{"ph":0.7973,"mag":15.4579,"dI":-0.0021},
      {"ph":0.8025,"mag":15.4644,"dI":0.0038},{"ph":0.8073,"mag":15.4589,"dI":-0.0017},{"ph":0.8125,"mag":15.4626,"dI":0.0012},{"ph":0.8173,"mag":15.4570,"dI":-0.0044},
      {"ph":0.8225,"mag":15.4690,"dI":0.0066},{"ph":0.8273,"mag":15.4618,"dI":-0.0006},{"ph":0.8325,"mag":15.4657,"dI":0.0023},{"ph":0.8373,"mag":15.4589,"dI":-0.0052},
      {"ph":0.8425,"mag":15.4681,"dI":0.0031},{"ph":0.8473,"mag":15.4658,"dI":0},{"ph":0.8525,"mag":15.4630,"dI":-0.0039},{"ph":0.8573,"mag":15.4726,"dI":0.0047},
      {"ph":0.8625,"mag":15.4666,"dI":-0.0025},{"ph":0.8673,"mag":15.4717,"dI":0.0014},{"ph":0.8725,"mag":15.4655,"dI":-0.0061},{"ph":0.8773,"mag":15.4786,"dI":0.0058},
      {"ph":0.8825,"mag":15.4730,"dI":-0.0011},{"ph":0.8873,"mag":15.4789,"dI":0.0036},{"ph":0.8925,"mag":15.4718,"dI":-0.0048},{"ph":0.8973,"mag":15.4799,"dI":0.0021},
      {"ph":0.9025,"mag":15.4825,"dI":0.0034},{"ph":0.9073,"mag":15.4781,"dI":-0.0022},{"ph":0.9125,"mag":15.4875,"dI":0.0061},{"ph":0.9173,"mag":15.4777,"dI":-0.0047},
      {"ph":0.9225,"mag":15.4839,"dI":0.0005},{"ph":0.9273,"mag":15.4861,"dI":0.0018},{"ph":0.9325,"mag":15.4785,"dI":-0.0066},{"ph":0.9373,"mag":15.4900,"dI":0.0043},
      {"ph":0.9425,"mag":15.4852,"dI":-0.0009},{"ph":0.9473,"mag":15.4826,"dI":-0.0035},{"ph":0.9525,"mag":15.4931,"dI":0.0072},{"ph":0.9573,"mag":15.4839,"dI":-0.0014},
      {"ph":0.9625,"mag":15.4870,"dI":0.0027},{"ph":0.9673,"mag":15.4772,"dI":-0.0058},{"ph":0.9725,"mag":15.4821,"dI":0.0009},{"ph":0.9773,"mag":15.4840,"dI":0.0049},
      {"ph":0.9825,"mag":15.4740,"dI":-0.0028},{"ph":0.9873,"mag":15.4742,"dI":-0.0003},{"ph":0.9925,"mag":15.4777,"dI":0.0055},{"ph":0.9973,"mag":15.4630,"dI":-0.0071},
      {"ph":0.0005,"mag":15.4810,"dI":0.0123},{"ph":0.0500,"mag":15.4330,"dI":-0.0125},{"ph":0.0570,"mag":15.4360,"dI":-0.0083},{"ph":0.0710,"mag":15.4330,"dI":-0.0101},
      {"ph":0.0840,"mag":15.4270,"dI":-0.0163},{"ph":0.0850,"mag":15.4310,"dI":-0.0123},{"ph":0.0950,"mag":15.4320,"dI":-0.0125},{"ph":0.1000,"mag":15.4360,"dI":-0.0092},
      {"ph":0.1100,"mag":15.4280,"dI":-0.0193},{"ph":0.1160,"mag":15.4350,"dI":-0.0137},{"ph":0.1260,"mag":15.4280,"dI":-0.0232},{"ph":0.1560,"mag":15.4370,"dI":-0.0215},
      {"ph":0.1630,"mag":15.4780,"dI":0.0179},{"ph":0.1700,"mag":15.4290,"dI":-0.0326},{"ph":0.1980,"mag":15.4430,"dI":-0.0239},{"ph":0.2140,"mag":15.4920,"dI":0.0228},
      {"ph":0.2260,"mag":15.4920,"dI":0.0211},{"ph":0.2650,"mag":15.4550,"dI":-0.0196},{"ph":0.2810,"mag":15.4920,"dI":0.0165},{"ph":0.2820,"mag":15.5080,"dI":0.0325},
      {"ph":0.2920,"mag":15.4930,"dI":0.0172},{"ph":0.3000,"mag":15.4910,"dI":0.0150},{"ph":0.3160,"mag":15.4920,"dI":0.0158},{"ph":0.3270,"mag":15.4590,"dI":-0.0172},
      {"ph":0.3780,"mag":15.4890,"dI":0.0134},{"ph":0.4000,"mag":15.4880,"dI":0.0130},{"ph":0.4070,"mag":15.4540,"dI":-0.0207},{"ph":0.4075,"mag":15.4560,"dI":-0.0187},
      {"ph":0.4300,"mag":15.4900,"dI":0.0161},{"ph":0.4700,"mag":15.4920,"dI":0.0199},{"ph":0.4810,"mag":15.4560,"dI":-0.0157},{"ph":0.4880,"mag":15.4540,"dI":-0.0175},
      {"ph":0.4910,"mag":15.4890,"dI":0.0176},{"ph":0.5050,"mag":15.5020,"dI":0.0310},{"ph":0.5190,"mag":15.4530,"dI":-0.0175},{"ph":0.5520,"mag":15.4910,"dI":0.0216},
      {"ph":0.5600,"mag":15.4540,"dI":-0.0151},{"ph":0.5950,"mag":15.4500,"dI":-0.0175},{"ph":0.6350,"mag":15.4490,"dI":-0.0167},{"ph":0.6430,"mag":15.4820,"dI":0.0167},
      {"ph":0.7070,"mag":15.4860,"dI":0.0241},{"ph":0.7110,"mag":15.4490,"dI":-0.0126},{"ph":0.7300,"mag":15.4830,"dI":0.0223},{"ph":0.7350,"mag":15.4450,"dI":-0.0156},
      {"ph":0.7470,"mag":15.4330,"dI":-0.0271},{"ph":0.7550,"mag":15.4370,"dI":-0.0228},{"ph":0.7620,"mag":15.4450,"dI":-0.0147},{"ph":0.8020,"mag":15.4480,"dI":-0.0123},
      {"ph":0.8110,"mag":15.4490,"dI":-0.0120},{"ph":0.8120,"mag":15.4790,"dI":0.0179},{"ph":0.8200,"mag":15.4480,"dI":-0.0138},{"ph":0.8340,"mag":15.4470,"dI":-0.0166},
      {"ph":0.8370,"mag":15.4510,"dI":-0.0130},{"ph":0.8480,"mag":15.4490,"dI":-0.0169},{"ph":0.8590,"mag":15.4500,"dI":-0.0183},{"ph":0.9050,"mag":15.4920,"dI":0.0123},
      {"ph":0.9100,"mag":15.4950,"dI":0.0141},{"ph":0.9180,"mag":15.4660,"dI":-0.0166},{"ph":0.9270,"mag":15.5090,"dI":0.0247},{"ph":0.9360,"mag":15.4950,"dI":0.0094},
      {"ph":0.9430,"mag":15.4990,"dI":0.0129},{"ph":0.9470,"mag":15.4950,"dI":0.0088},{"ph":0.9580,"mag":15.4950,"dI":0.0098},{"ph":0.9630,"mag":15.5020,"dI":0.0176},
      {"ph":0.9890,"mag":15.4900,"dI":0.0163},{"ph":0.9985,"mag":15.4540,"dI":-0.0150},

      {"ph":1.0012,"mag":15.4735,"dI":0.0052},{"ph":1.0037,"mag":15.4637,"dI":-0.0031},{"ph":1.0061,"mag":15.4661,"dI":0.0008},{"ph":1.0086,"mag":15.4564,"dI":-0.0074},
      {"ph":1.0117,"mag":15.4717,"dI":0.0096},{"ph":1.0149,"mag":15.4591,"dI":-0.0012},{"ph":1.0181,"mag":15.4622,"dI":0.0037},
      {"ph":1.0212,"mag":15.4464,"dI":-0.0105},{"ph":1.0237,"mag":15.4619,"dI":0.0063},{"ph":1.0261,"mag":15.4496,"dI":-0.0048},{"ph":1.0286,"mag":15.4546,"dI":0.0014},
      {"ph":1.0317,"mag":15.4639,"dI":0.0121},{"ph":1.0349,"mag":15.4418,"dI":-0.0087},{"ph":1.0381,"mag":15.4522,"dI":0.0029},
      {"ph":1.0412,"mag":15.4475,"dI":-0.0006},{"ph":1.0437,"mag":15.4545,"dI":0.0071},{"ph":1.0461,"mag":15.4338,"dI":-0.0129},{"ph":1.0486,"mag":15.4503,"dI":0.0044},
      {"ph":1.0517,"mag":15.4394,"dI":-0.0058},{"ph":1.0549,"mag":15.4450,"dI":0.0003},{"ph":1.0581,"mag":15.4529,"dI":0.0088},
      {"ph":1.0612,"mag":15.4413,"dI":-0.0022},{"ph":1.0637,"mag":15.4368,"dI":-0.0067},{"ph":1.0661,"mag":15.4545,"dI":0.0110},{"ph":1.0686,"mag":15.4396,"dI":-0.0039},
      {"ph":1.0717,"mag":15.4450,"dI":0.0019},{"ph":1.0749,"mag":15.4488,"dI":0.0057},{"ph":1.0781,"mag":15.4337,"dI":-0.0094},
      {"ph":1.0812,"mag":15.4435,"dI":0},{"ph":1.0837,"mag":15.4511,"dI":0.0076},{"ph":1.0861,"mag":15.4419,"dI":-0.0016},{"ph":1.0886,"mag":15.4322,"dI":-0.0113},
      {"ph":1.0917,"mag":15.4478,"dI":0.0033},{"ph":1.0949,"mag":15.4537,"dI":0.0092},{"ph":1.0981,"mag":15.4394,"dI":-0.0051},
      {"ph":1.1012,"mag":15.4469,"dI":0.0006},{"ph":1.1037,"mag":15.4383,"dI":-0.0080},{"ph":1.1061,"mag":15.4601,"dI":0.0138},{"ph":1.1086,"mag":15.4436,"dI":-0.0027},
      {"ph":1.1117,"mag":15.4533,"dI":0.0048},{"ph":1.1149,"mag":15.4344,"dI":-0.0141},{"ph":1.1181,"mag":15.4550,"dI":0.0065},
      {"ph":1.1212,"mag":15.4521,"dI":0.0011},{"ph":1.1237,"mag":15.4475,"dI":-0.0035},{"ph":1.1261,"mag":15.4594,"dI":0.0084},{"ph":1.1286,"mag":15.4411,"dI":-0.0099},
      {"ph":1.1317,"mag":15.4559,"dI":0.0024},{"ph":1.1349,"mag":15.4526,"dI":-0.0009},{"ph":1.1381,"mag":15.4638,"dI":0.0103},
      {"ph":1.1412,"mag":15.4497,"dI":-0.0062},{"ph":1.1437,"mag":15.4600,"dI":0.0041},{"ph":1.1461,"mag":15.4441,"dI":-0.0118},{"ph":1.1486,"mag":15.4574,"dI":0.0015},
      {"ph":1.1517,"mag":15.4661,"dI":0.0079},{"ph":1.1549,"mag":15.4537,"dI":-0.0045},{"ph":1.1581,"mag":15.4579,"dI":-0.0003},
      {"ph":1.1612,"mag":15.4664,"dI":0.0059},{"ph":1.1637,"mag":15.4521,"dI":-0.0084},{"ph":1.1661,"mag":15.4732,"dI":0.0127},{"ph":1.1686,"mag":15.4585,"dI":-0.0020},
      {"ph":1.1717,"mag":15.4647,"dI":0.0020},{"ph":1.1749,"mag":15.4500,"dI":-0.0127},{"ph":1.1781,"mag":15.4711,"dI":0.0084},
      {"ph":1.1812,"mag":15.4588,"dI":-0.0059},{"ph":1.1837,"mag":15.4650,"dI":0.0003},{"ph":1.1861,"mag":15.4692,"dI":0.0045},{"ph":1.1886,"mag":15.4568,"dI":-0.0079},
      {"ph":1.1917,"mag":15.4649,"dI":-0.0015},{"ph":1.1949,"mag":15.4782,"dI":0.0118},{"ph":1.1981,"mag":15.4623,"dI":-0.0041},
      {"ph":1.2012,"mag":15.4742,"dI":0.0062},{"ph":1.2037,"mag":15.4577,"dI":-0.0103},{"ph":1.2061,"mag":15.4689,"dI":0.0009},{"ph":1.2086,"mag":15.4656,"dI":-0.0024},
      {"ph":1.2117,"mag":15.4793,"dI":0.0099},{"ph":1.2149,"mag":15.4610,"dI":-0.0084},{"ph":1.2181,"mag":15.4729,"dI":0.0035},
      {"ph":1.2212,"mag":15.4697,"dI":-0.0011},{"ph":1.2237,"mag":15.4643,"dI":-0.0065},{"ph":1.2261,"mag":15.4849,"dI":0.0141},{"ph":1.2286,"mag":15.4660,"dI":-0.0048},
      {"ph":1.2317,"mag":15.4747,"dI":0.0027},{"ph":1.2349,"mag":15.4582,"dI":-0.0138},{"ph":1.2381,"mag":15.4800,"dI":0.0080},
      {"ph":1.2412,"mag":15.4724,"dI":-0.0006},{"ph":1.2437,"mag":15.4781,"dI":0.0051},{"ph":1.2461,"mag":15.4638,"dI":-0.0092},{"ph":1.2486,"mag":15.4697,"dI":-0.0033},
      {"ph":1.2517,"mag":15.4852,"dI":0.0113},{"ph":1.2549,"mag":15.4755,"dI":0.0016},{"ph":1.2581,"mag":15.4663,"dI":-0.0076},
      {"ph":1.2612,"mag":15.4746,"dI":0},{"ph":1.2637,"mag":15.4840,"dI":0.0094},{"ph":1.2661,"mag":15.4689,"dI":-0.0057},{"ph":1.2686,"mag":15.4727,"dI":-0.0019},
      {"ph":1.2717,"mag":15.4791,"dI":0.0039},{"ph":1.2749,"mag":15.4642,"dI":-0.0110},{"ph":1.2781,"mag":15.4819,"dI":0.0067},
      {"ph":1.2812,"mag":15.4778,"dI":0.0022},{"ph":1.2837,"mag":15.4668,"dI":-0.0088},{"ph":1.2861,"mag":15.4753,"dI":-0.0003},{"ph":1.2886,"mag":15.4814,"dI":0.0058},
      {"ph":1.2917,"mag":15.4715,"dI":-0.0044},{"ph":1.2949,"mag":15.4888,"dI":0.0129},{"ph":1.2981,"mag":15.4688,"dI":-0.0071},
      {"ph":1.3012,"mag":15.4767,"dI":0.0006},{"ph":1.3037,"mag":15.4732,"dI":-0.0029},{"ph":1.3061,"mag":15.4848,"dI":0.0087},{"ph":1.3086,"mag":15.4640,"dI":-0.0121},
      {"ph":1.3117,"mag":15.4748,"dI":-0.0014},{"ph":1.3149,"mag":15.4810,"dI":0.0048},{"ph":1.3181,"mag":15.4699,"dI":-0.0063},
      {"ph":1.3212,"mag":15.4867,"dI":0.0105},{"ph":1.3237,"mag":15.4725,"dI":-0.0037},{"ph":1.3261,"mag":15.4774,"dI":0.0012},{"ph":1.3286,"mag":15.4666,"dI":-0.0096},
      {"ph":1.3317,"mag":15.4836,"dI":0.0074},{"ph":1.3349,"mag":15.4754,"dI":-0.0008},{"ph":1.3381,"mag":15.4793,"dI":0.0031},
      {"ph":1.3412,"mag":15.4710,"dI":-0.0052},{"ph":1.3437,"mag":15.4746,"dI":-0.0016},{"ph":1.3461,"mag":15.4649,"dI":-0.0113},{"ph":1.3486,"mag":15.4795,"dI":0.0033},
      {"ph":1.3517,"mag":15.4853,"dI":0.0092},{"ph":1.3549,"mag":15.4710,"dI":-0.0051},{"ph":1.3581,"mag":15.4767,"dI":0.0006},
      {"ph":1.3612,"mag":15.4679,"dI":-0.0080},{"ph":1.3637,"mag":15.4897,"dI":0.0138},{"ph":1.3661,"mag":15.4732,"dI":-0.0027},{"ph":1.3686,"mag":15.4807,"dI":0.0048},
      {"ph":1.3717,"mag":15.4616,"dI":-0.0141},{"ph":1.3749,"mag":15.4822,"dI":0.0065},{"ph":1.3781,"mag":15.4768,"dI":0.0011},
      {"ph":1.3812,"mag":15.4720,"dI":-0.0035},{"ph":1.3837,"mag":15.4839,"dI":0.0084},{"ph":1.3861,"mag":15.4656,"dI":-0.0099},{"ph":1.3886,"mag":15.4779,"dI":0.0024},
      {"ph":1.3917,"mag":15.4743,"dI":-0.0009},{"ph":1.3949,"mag":15.4855,"dI":0.0103},{"ph":1.3981,"mag":15.4690,"dI":-0.0062},
      {"ph":1.4012,"mag":15.4789,"dI":0.0041},{"ph":1.4037,"mag":15.4630,"dI":-0.0118},{"ph":1.4061,"mag":15.4763,"dI":0.0015},{"ph":1.4086,"mag":15.4827,"dI":0.0079},
      {"ph":1.4117,"mag":15.4700,"dI":-0.0045},{"ph":1.4149,"mag":15.4742,"dI":-0.0003},{"ph":1.4181,"mag":15.4804,"dI":0.0059},
      {"ph":1.4212,"mag":15.4657,"dI":-0.0084},{"ph":1.4237,"mag":15.4868,"dI":0.0127},{"ph":1.4261,"mag":15.4721,"dI":-0.0020},{"ph":1.4286,"mag":15.4793,"dI":0.0052},
      {"ph":1.4317,"mag":15.4706,"dI":-0.0031},{"ph":1.4349,"mag":15.4745,"dI":0.0008},{"ph":1.4381,"mag":15.4663,"dI":-0.0074},
      {"ph":1.4412,"mag":15.4828,"dI":0.0096},{"ph":1.4437,"mag":15.4720,"dI":-0.0012},{"ph":1.4461,"mag":15.4769,"dI":0.0037},{"ph":1.4486,"mag":15.4627,"dI":-0.0105},
      {"ph":1.4517,"mag":15.4791,"dI":0.0063},{"ph":1.4549,"mag":15.4680,"dI":-0.0048},{"ph":1.4581,"mag":15.4742,"dI":0.0014},
      {"ph":1.4612,"mag":15.4845,"dI":0.0121},{"ph":1.4637,"mag":15.4637,"dI":-0.0087},{"ph":1.4661,"mag":15.4753,"dI":0.0029},{"ph":1.4686,"mag":15.4718,"dI":-0.0006},
      {"ph":1.4717,"mag":15.4790,"dI":0.0071},{"ph":1.4749,"mag":15.4590,"dI":-0.0129},{"ph":1.4781,"mag":15.4763,"dI":0.0044},
      {"ph":1.4812,"mag":15.4658,"dI":-0.0058},{"ph":1.4837,"mag":15.4719,"dI":0.0003},{"ph":1.4861,"mag":15.4804,"dI":0.0088},{"ph":1.4886,"mag":15.4694,"dI":-0.0022},
      {"ph":1.4917,"mag":15.4646,"dI":-0.0067},{"ph":1.4949,"mag":15.4823,"dI":0.0110},{"ph":1.4981,"mag":15.4674,"dI":-0.0039},
      {"ph":1.5012,"mag":15.4729,"dI":0.0019},{"ph":1.5037,"mag":15.4767,"dI":0.0057},{"ph":1.5061,"mag":15.4616,"dI":-0.0094},{"ph":1.5086,"mag":15.4710,"dI":0},
      {"ph":1.5117,"mag":15.4783,"dI":0.0076},{"ph":1.5149,"mag":15.4655,"dI":-0.0052},{"ph":1.5181,"mag":15.4738,"dI":0.0031},
      {"ph":1.5212,"mag":15.4696,"dI":-0.0008},{"ph":1.5237,"mag":15.4778,"dI":0.0074},{"ph":1.5261,"mag":15.4608,"dI":-0.0096},{"ph":1.5286,"mag":15.4716,"dI":0.0012},
      {"ph":1.5317,"mag":15.4663,"dI":-0.0037},{"ph":1.5349,"mag":15.4805,"dI":0.0105},{"ph":1.5381,"mag":15.4637,"dI":-0.0063},
      {"ph":1.5412,"mag":15.4745,"dI":0.0048},{"ph":1.5437,"mag":15.4683,"dI":-0.0014},{"ph":1.5461,"mag":15.4576,"dI":-0.0121},{"ph":1.5486,"mag":15.4784,"dI":0.0087},
      {"ph":1.5517,"mag":15.4664,"dI":-0.0029},{"ph":1.5549,"mag":15.4699,"dI":0.0006},{"ph":1.5581,"mag":15.4622,"dI":-0.0071},
      {"ph":1.5612,"mag":15.4818,"dI":0.0129},{"ph":1.5637,"mag":15.4645,"dI":-0.0044},{"ph":1.5661,"mag":15.4747,"dI":0.0058},{"ph":1.5686,"mag":15.4686,"dI":-0.0003},
      {"ph":1.5717,"mag":15.4596,"dI":-0.0088},{"ph":1.5749,"mag":15.4706,"dI":0.0022},{"ph":1.5781,"mag":15.4751,"dI":0.0067},
      {"ph":1.5812,"mag":15.4570,"dI":-0.0110},{"ph":1.5837,"mag":15.4719,"dI":0.0039},{"ph":1.5861,"mag":15.4661,"dI":-0.0019},{"ph":1.5886,"mag":15.4623,"dI":-0.0057},
      {"ph":1.5917,"mag":15.4769,"dI":0.0094},{"ph":1.5949,"mag":15.4675,"dI":0},{"ph":1.5981,"mag":15.4599,"dI":-0.0076},
      {"ph":1.6012,"mag":15.4686,"dI":0.0016},{"ph":1.6037,"mag":15.4783,"dI":0.0113},{"ph":1.6061,"mag":15.4637,"dI":-0.0033},{"ph":1.6086,"mag":15.4578,"dI":-0.0092},
      {"ph":1.6117,"mag":15.4717,"dI":0.0051},{"ph":1.6149,"mag":15.4660,"dI":-0.0006},{"ph":1.6181,"mag":15.4746,"dI":0.0080},
      {"ph":1.6212,"mag":15.4523,"dI":-0.0138},{"ph":1.6237,"mag":15.4688,"dI":0.0027},{"ph":1.6261,"mag":15.4613,"dI":-0.0048},{"ph":1.6286,"mag":15.4802,"dI":0.0141},
      {"ph":1.6317,"mag":15.4592,"dI":-0.0065},{"ph":1.6349,"mag":15.4646,"dI":-0.0011},{"ph":1.6381,"mag":15.4692,"dI":0.0035},
      {"ph":1.6412,"mag":15.4568,"dI":-0.0084},{"ph":1.6437,"mag":15.4751,"dI":0.0099},{"ph":1.6461,"mag":15.4628,"dI":-0.0024},{"ph":1.6486,"mag":15.4661,"dI":0.0009},
      {"ph":1.6517,"mag":15.4544,"dI":-0.0103},{"ph":1.6549,"mag":15.4709,"dI":0.0062},{"ph":1.6581,"mag":15.4606,"dI":-0.0041},
      {"ph":1.6612,"mag":15.4760,"dI":0.0118},{"ph":1.6637,"mag":15.4627,"dI":-0.0015},{"ph":1.6661,"mag":15.4563,"dI":-0.0079},{"ph":1.6686,"mag":15.4687,"dI":0.0045},
      {"ph":1.6717,"mag":15.4639,"dI":0.0003},{"ph":1.6749,"mag":15.4577,"dI":-0.0059},{"ph":1.6781,"mag":15.4720,"dI":0.0084},
      {"ph":1.6812,"mag":15.4504,"dI":-0.0127},{"ph":1.6837,"mag":15.4651,"dI":0.0020},{"ph":1.6861,"mag":15.4611,"dI":-0.0020},{"ph":1.6886,"mag":15.4758,"dI":0.0127},
      {"ph":1.6917,"mag":15.4541,"dI":-0.0084},{"ph":1.6949,"mag":15.4684,"dI":0.0059},{"ph":1.6981,"mag":15.4622,"dI":-0.0003},
      {"ph":1.7012,"mag":15.4575,"dI":-0.0045},{"ph":1.7037,"mag":15.4699,"dI":0.0079},{"ph":1.7061,"mag":15.4635,"dI":0.0015},{"ph":1.7086,"mag":15.4502,"dI":-0.0118},
      {"ph":1.7117,"mag":15.4656,"dI":0.0041},{"ph":1.7149,"mag":15.4553,"dI":-0.0062},{"ph":1.7181,"mag":15.4718,"dI":0.0103},
      {"ph":1.7212,"mag":15.4601,"dI":-0.0009},{"ph":1.7237,"mag":15.4634,"dI":0.0024},{"ph":1.7261,"mag":15.4511,"dI":-0.0099},{"ph":1.7286,"mag":15.4694,"dI":0.0084},
      {"ph":1.7317,"mag":15.4571,"dI":-0.0035},{"ph":1.7349,"mag":15.4617,"dI":0.0011},{"ph":1.7381,"mag":15.4671,"dI":0.0065},
      {"ph":1.7412,"mag":15.4461,"dI":-0.0141},{"ph":1.7437,"mag":15.4650,"dI":0.0048},{"ph":1.7461,"mag":15.4575,"dI":-0.0027},{"ph":1.7486,"mag":15.4740,"dI":0.0138},
      {"ph":1.7517,"mag":15.4519,"dI":-0.0080},{"ph":1.7549,"mag":15.4605,"dI":0.0006},{"ph":1.7581,"mag":15.4548,"dI":-0.0051},
      {"ph":1.7612,"mag":15.4688,"dI":0.0092},{"ph":1.7637,"mag":15.4629,"dI":0.0033},{"ph":1.7661,"mag":15.4483,"dI":-0.0113},{"ph":1.7686,"mag":15.4580,"dI":-0.0016},
      {"ph":1.7717,"mag":15.4671,"dI":0.0076},{"ph":1.7749,"mag":15.4595,"dI":0},{"ph":1.7781,"mag":15.4501,"dI":-0.0094},
      {"ph":1.7812,"mag":15.4653,"dI":0.0057},{"ph":1.7837,"mag":15.4615,"dI":0.0019},{"ph":1.7861,"mag":15.4557,"dI":-0.0039},{"ph":1.7886,"mag":15.4706,"dI":0.0110},
      {"ph":1.7917,"mag":15.4533,"dI":-0.0067},{"ph":1.7949,"mag":15.4578,"dI":-0.0022},{"ph":1.7981,"mag":15.4688,"dI":0.0088},
      {"ph":1.8012,"mag":15.4609,"dI":0.0003},{"ph":1.8037,"mag":15.4548,"dI":-0.0058},{"ph":1.8061,"mag":15.4650,"dI":0.0044},{"ph":1.8086,"mag":15.4477,"dI":-0.0129},
      {"ph":1.8117,"mag":15.4685,"dI":0.0071},{"ph":1.8149,"mag":15.4608,"dI":-0.0006},{"ph":1.8181,"mag":15.4643,"dI":0.0029},
      {"ph":1.8212,"mag":15.4537,"dI":-0.0087},{"ph":1.8237,"mag":15.4745,"dI":0.0121},{"ph":1.8261,"mag":15.4638,"dI":0.0014},{"ph":1.8286,"mag":15.4576,"dI":-0.0048},
      {"ph":1.8317,"mag":15.4696,"dI":0.0063},{"ph":1.8349,"mag":15.4532,"dI":-0.0105},{"ph":1.8381,"mag":15.4679,"dI":0.0037},
      {"ph":1.8412,"mag":15.4635,"dI":-0.0012},{"ph":1.8437,"mag":15.4748,"dI":0.0096},{"ph":1.8461,"mag":15.4582,"dI":-0.0074},{"ph":1.8486,"mag":15.4668,"dI":0.0008},
      {"ph":1.8517,"mag":15.4636,"dI":-0.0031},{"ph":1.8549,"mag":15.4726,"dI":0.0052},{"ph":1.8581,"mag":15.4697,"dI":0.0016},
      {"ph":1.8612,"mag":15.4801,"dI":0.0113},{"ph":1.8637,"mag":15.4661,"dI":-0.0033},{"ph":1.8661,"mag":15.4608,"dI":-0.0092},{"ph":1.8686,"mag":15.4757,"dI":0.0051},
      {"ph":1.8717,"mag":15.4708,"dI":-0.0006},{"ph":1.8749,"mag":15.4802,"dI":0.0080},{"ph":1.8781,"mag":15.4592,"dI":-0.0138},
      {"ph":1.8812,"mag":15.4765,"dI":0.0027},{"ph":1.8837,"mag":15.4696,"dI":-0.0048},{"ph":1.8861,"mag":15.4891,"dI":0.0141},{"ph":1.8886,"mag":15.4692,"dI":-0.0065},
      {"ph":1.8917,"mag":15.4753,"dI":-0.0011},{"ph":1.8949,"mag":15.4807,"dI":0.0035},{"ph":1.8981,"mag":15.4696,"dI":-0.0084},
      {"ph":1.9012,"mag":15.4887,"dI":0.0099},{"ph":1.9037,"mag":15.4770,"dI":-0.0024},{"ph":1.9061,"mag":15.4809,"dI":0.0009},{"ph":1.9086,"mag":15.4703,"dI":-0.0103},
      {"ph":1.9117,"mag":15.4875,"dI":0.0062},{"ph":1.9149,"mag":15.4778,"dI":-0.0041},{"ph":1.9181,"mag":15.4944,"dI":0.0118},
      {"ph":1.9212,"mag":15.4817,"dI":-0.0015},{"ph":1.9237,"mag":15.4758,"dI":-0.0079},{"ph":1.9261,"mag":15.4886,"dI":0.0045},{"ph":1.9286,"mag":15.4848,"dI":0.0003},
      {"ph":1.9317,"mag":15.4791,"dI":-0.0059},{"ph":1.9349,"mag":15.4938,"dI":0.0084},{"ph":1.9381,"mag":15.4731,"dI":-0.0127},
      {"ph":1.9412,"mag":15.4881,"dI":0.0020},{"ph":1.9437,"mag":15.4809,"dI":-0.0052},{"ph":1.9461,"mag":15.4892,"dI":0.0031},{"ph":1.9486,"mag":15.4853,"dI":-0.0008},
      {"ph":1.9517,"mag":15.4934,"dI":0.0074},{"ph":1.9549,"mag":15.4760,"dI":-0.0096},{"ph":1.9581,"mag":15.4864,"dI":0.0012},
      {"ph":1.9612,"mag":15.4810,"dI":-0.0037},{"ph":1.9637,"mag":15.4945,"dI":0.0105},{"ph":1.9661,"mag":15.4770,"dI":-0.0063},{"ph":1.9686,"mag":15.4874,"dI":0.0048},
      {"ph":1.9717,"mag":15.4801,"dI":-0.0014},{"ph":1.9749,"mag":15.4680,"dI":-0.0121},{"ph":1.9781,"mag":15.4875,"dI":0.0087},
      {"ph":1.9812,"mag":15.4745,"dI":-0.0029},{"ph":1.9837,"mag":15.4768,"dI":0.0006},{"ph":1.9861,"mag":15.4680,"dI":-0.0071},{"ph":1.9886,"mag":15.4868,"dI":0.0129},
      {"ph":1.9917,"mag":15.4681,"dI":-0.0044},{"ph":1.9949,"mag":15.4769,"dI":0.0058},{"ph":1.9981,"mag":15.4695,"dI":-0.0003},
      {"ph":1.0025,"mag":15.4709,"dI":0.0034},{"ph":1.0073,"mag":15.4624,"dI":-0.0022},{"ph":1.0125,"mag":15.4677,"dI":0.0061},{"ph":1.0173,"mag":15.4543,"dI":-0.0047},
      {"ph":1.0225,"mag":15.4568,"dI":0.0005},{"ph":1.0273,"mag":15.4556,"dI":0.0018},{"ph":1.0325,"mag":15.4449,"dI":-0.0066},{"ph":1.0373,"mag":15.4539,"dI":0.0043},
      {"ph":1.0425,"mag":15.4468,"dI":-0.0009},{"ph":1.0473,"mag":15.4428,"dI":-0.0035},{"ph":1.0525,"mag":15.4523,"dI":0.0072},{"ph":1.0573,"mag":15.4429,"dI":-0.0014},
      {"ph":1.0625,"mag":15.4463,"dI":0.0027},{"ph":1.0673,"mag":15.4375,"dI":-0.0058},{"ph":1.0725,"mag":15.4440,"dI":0.0009},{"ph":1.0773,"mag":15.4480,"dI":0.0049},
      {"ph":1.0825,"mag":15.4405,"dI":-0.0028},{"ph":1.0873,"mag":15.4433,"dI":-0.0003},{"ph":1.0925,"mag":15.4496,"dI":0.0055},{"ph":1.0973,"mag":15.4377,"dI":-0.0071},
      {"ph":1.1025,"mag":15.4495,"dI":0.0038},{"ph":1.1073,"mag":15.4450,"dI":-0.0017},{"ph":1.1125,"mag":15.4491,"dI":0.0012},{"ph":1.1173,"mag":15.4447,"dI":-0.0044},
      {"ph":1.1225,"mag":15.4569,"dI":0.0066},{"ph":1.1273,"mag":15.4509,"dI":-0.0006},{"ph":1.1325,"mag":15.4551,"dI":0.0023},{"ph":1.1373,"mag":15.4488,"dI":-0.0052},
      {"ph":1.1425,"mag":15.4584,"dI":0.0031},{"ph":1.1473,"mag":15.4564,"dI":0},{"ph":1.1525,"mag":15.4537,"dI":-0.0039},{"ph":1.1573,"mag":15.4635,"dI":0.0047},
      {"ph":1.1625,"mag":15.4575,"dI":-0.0025},{"ph":1.1673,"mag":15.4624,"dI":0.0014},{"ph":1.1725,"mag":15.4561,"dI":-0.0061},{"ph":1.1773,"mag":15.4690,"dI":0.0058},
      {"ph":1.1825,"mag":15.4632,"dI":-0.0011},{"ph":1.1873,"mag":15.4687,"dI":0.0036},{"ph":1.1925,"mag":15.4612,"dI":-0.0048},{"ph":1.1973,"mag":15.4689,"dI":0.0021},
      {"ph":1.2025,"mag":15.4655,"dI":-0.0021},{"ph":1.2073,"mag":15.4731,"dI":0.0048},{"ph":1.2125,"mag":15.4655,"dI":-0.0036},{"ph":1.2173,"mag":15.4708,"dI":0.0011},
      {"ph":1.2225,"mag":15.4646,"dI":-0.0058},{"ph":1.2273,"mag":15.4771,"dI":0.0061},{"ph":1.2325,"mag":15.4703,"dI":-0.0014},{"ph":1.2373,"mag":15.4747,"dI":0.0025},
      {"ph":1.2425,"mag":15.4681,"dI":-0.0047},{"ph":1.2473,"mag":15.4771,"dI":0.0039},{"ph":1.2525,"mag":15.4737,"dI":0},{"ph":1.2573,"mag":15.4710,"dI":-0.0031},
      {"ph":1.2625,"mag":15.4798,"dI":0.0052},{"ph":1.2673,"mag":15.4723,"dI":-0.0023},{"ph":1.2725,"mag":15.4758,"dI":0.0006},{"ph":1.2773,"mag":15.4686,"dI":-0.0066},
      {"ph":1.2825,"mag":15.4800,"dI":0.0044},{"ph":1.2873,"mag":15.4744,"dI":-0.0012},{"ph":1.2925,"mag":15.4776,"dI":0.0017},{"ph":1.2973,"mag":15.4721,"dI":-0.0038},
      {"ph":1.3025,"mag":15.4832,"dI":0.0071},{"ph":1.3073,"mag":15.4706,"dI":-0.0055},{"ph":1.3125,"mag":15.4765,"dI":0.0003},{"ph":1.3173,"mag":15.4790,"dI":0.0028},
      {"ph":1.3225,"mag":15.4713,"dI":-0.0049},{"ph":1.3273,"mag":15.4753,"dI":-0.0009},{"ph":1.3325,"mag":15.4820,"dI":0.0058},{"ph":1.3373,"mag":15.4735,"dI":-0.0027},
      {"ph":1.3425,"mag":15.4776,"dI":0.0014},{"ph":1.3473,"mag":15.4690,"dI":-0.0072},{"ph":1.3525,"mag":15.4796,"dI":0.0035},{"ph":1.3573,"mag":15.4770,"dI":0.0009},
      {"ph":1.3625,"mag":15.4716,"dI":-0.0043},{"ph":1.3673,"mag":15.4825,"dI":0.0066},{"ph":1.3725,"mag":15.4739,"dI":-0.0018},{"ph":1.3773,"mag":15.4752,"dI":-0.0005},
      {"ph":1.3825,"mag":15.4802,"dI":0.0047},{"ph":1.3873,"mag":15.4694,"dI":-0.0061},{"ph":1.3925,"mag":15.4774,"dI":0.0022},{"ph":1.3973,"mag":15.4718,"dI":-0.0034},
      {"ph":1.4025,"mag":15.4769,"dI":0.0021},{"ph":1.4073,"mag":15.4700,"dI":-0.0048},{"ph":1.4125,"mag":15.4781,"dI":0.0036},{"ph":1.4173,"mag":15.4734,"dI":-0.0011},
      {"ph":1.4225,"mag":15.4799,"dI":0.0058},{"ph":1.4273,"mag":15.4680,"dI":-0.0061},{"ph":1.4325,"mag":15.4751,"dI":0.0014},{"ph":1.4373,"mag":15.4712,"dI":-0.0025},
      {"ph":1.4425,"mag":15.4779,"dI":0.0047},{"ph":1.4473,"mag":15.4693,"dI":-0.0039},{"ph":1.4525,"mag":15.4728,"dI":0},{"ph":1.4573,"mag":15.4759,"dI":0.0031},
      {"ph":1.4625,"mag":15.4672,"dI":-0.0052},{"ph":1.4673,"mag":15.4747,"dI":0.0023},{"ph":1.4725,"mag":15.4713,"dI":-0.0006},{"ph":1.4773,"mag":15.4785,"dI":0.0066},
      {"ph":1.4825,"mag":15.4672,"dI":-0.0044},{"ph":1.4873,"mag":15.4728,"dI":0.0012},{"ph":1.4925,"mag":15.4696,"dI":-0.0017},{"ph":1.4973,"mag":15.4751,"dI":0.0038},
      {"ph":1.5025,"mag":15.4639,"dI":-0.0071},{"ph":1.5073,"mag":15.4765,"dI":0.0055},{"ph":1.5125,"mag":15.4704,"dI":-0.0003},{"ph":1.5173,"mag":15.4679,"dI":-0.0028},
      {"ph":1.5225,"mag":15.4753,"dI":0.0049},{"ph":1.5273,"mag":15.4713,"dI":0.0009},{"ph":1.5325,"mag":15.4642,"dI":-0.0058},{"ph":1.5373,"mag":15.4727,"dI":0.0027},
      {"ph":1.5425,"mag":15.4683,"dI":-0.0014},{"ph":1.5473,"mag":15.4769,"dI":0.0072},{"ph":1.5525,"mag":15.4658,"dI":-0.0035},{"ph":1.5573,"mag":15.4684,"dI":-0.0009},
      {"ph":1.5625,"mag":15.4732,"dI":0.0043},{"ph":1.5673,"mag":15.4623,"dI":-0.0066},{"ph":1.5725,"mag":15.4702,"dI":0.0018},{"ph":1.5773,"mag":15.4689,"dI":0.0005},
      {"ph":1.5825,"mag":15.4633,"dI":-0.0047},{"ph":1.5873,"mag":15.4741,"dI":0.0061},{"ph":1.5925,"mag":15.4653,"dI":-0.0022},{"ph":1.5973,"mag":15.4709,"dI":0.0034},
      {"ph":1.6025,"mag":15.4636,"dI":-0.0034},{"ph":1.6073,"mag":15.4692,"dI":0.0022},{"ph":1.6125,"mag":15.4605,"dI":-0.0061},{"ph":1.6173,"mag":15.4713,"dI":0.0047},
      {"ph":1.6225,"mag":15.4656,"dI":-0.0005},{"ph":1.6273,"mag":15.4643,"dI":-0.0018},{"ph":1.6325,"mag":15.4723,"dI":0.0066},{"ph":1.6373,"mag":15.4614,"dI":-0.0043},
      {"ph":1.6425,"mag":15.4661,"dI":0.0009},{"ph":1.6473,"mag":15.4687,"dI":0.0035},{"ph":1.6525,"mag":15.4575,"dI":-0.0072},{"ph":1.6573,"mag":15.4661,"dI":0.0014},
      {"ph":1.6625,"mag":15.4615,"dI":-0.0027},{"ph":1.6673,"mag":15.4700,"dI":0.0058},{"ph":1.6725,"mag":15.4627,"dI":-0.0009},{"ph":1.6773,"mag":15.4587,"dI":-0.0049},
      {"ph":1.6825,"mag":15.4659,"dI":0.0028},{"ph":1.6873,"mag":15.4634,"dI":0.0003},{"ph":1.6925,"mag":15.4570,"dI":-0.0055},{"ph":1.6973,"mag":15.4696,"dI":0.0071},
      {"ph":1.7025,"mag":15.4582,"dI":-0.0038},{"ph":1.7073,"mag":15.4637,"dI":0.0017},{"ph":1.7125,"mag":15.4603,"dI":-0.0012},{"ph":1.7173,"mag":15.4659,"dI":0.0044},
      {"ph":1.7225,"mag":15.4544,"dI":-0.0066},{"ph":1.7273,"mag":15.4616,"dI":0.0006},{"ph":1.7325,"mag":15.4583,"dI":-0.0023},{"ph":1.7373,"mag":15.4658,"dI":0.0052},
      {"ph":1.7425,"mag":15.4571,"dI":-0.0031},{"ph":1.7473,"mag":15.4602,"dI":0},{"ph":1.7525,"mag":15.4638,"dI":0.0039},{"ph":1.7573,"mag":15.4552,"dI":-0.0047},
      {"ph":1.7625,"mag":15.4621,"dI":0.0025},{"ph":1.7673,"mag":15.4582,"dI":-0.0014},{"ph":1.7725,"mag":15.4656,"dI":0.0061},{"ph":1.7773,"mag":15.4537,"dI":-0.0058},
      {"ph":1.7825,"mag":15.4607,"dI":0.0011},{"ph":1.7873,"mag":15.4560,"dI":-0.0036},{"ph":1.7925,"mag":15.4648,"dI":0.0048},{"ph":1.7973,"mag":15.4579,"dI":-0.0021},
      {"ph":1.8025,"mag":15.4644,"dI":0.0038},{"ph":1.8073,"mag":15.4589,"dI":-0.0017},{"ph":1.8125,"mag":15.4626,"dI":0.0012},{"ph":1.8173,"mag":15.4570,"dI":-0.0044},
      {"ph":1.8225,"mag":15.4690,"dI":0.0066},{"ph":1.8273,"mag":15.4618,"dI":-0.0006},{"ph":1.8325,"mag":15.4657,"dI":0.0023},{"ph":1.8373,"mag":15.4589,"dI":-0.0052},
      {"ph":1.8425,"mag":15.4681,"dI":0.0031},{"ph":1.8473,"mag":15.4658,"dI":0},{"ph":1.8525,"mag":15.4630,"dI":-0.0039},{"ph":1.8573,"mag":15.4726,"dI":0.0047},
      {"ph":1.8625,"mag":15.4666,"dI":-0.0025},{"ph":1.8673,"mag":15.4717,"dI":0.0014},{"ph":1.8725,"mag":15.4655,"dI":-0.0061},{"ph":1.8773,"mag":15.4786,"dI":0.0058},
      {"ph":1.8825,"mag":15.4730,"dI":-0.0011},{"ph":1.8873,"mag":15.4789,"dI":0.0036},{"ph":1.8925,"mag":15.4718,"dI":-0.0048},{"ph":1.8973,"mag":15.4799,"dI":0.0021},
      {"ph":1.9025,"mag":15.4825,"dI":0.0034},{"ph":1.9073,"mag":15.4781,"dI":-0.0022},{"ph":1.9125,"mag":15.4875,"dI":0.0061},{"ph":1.9173,"mag":15.4777,"dI":-0.0047},
      {"ph":1.9225,"mag":15.4839,"dI":0.0005},{"ph":1.9273,"mag":15.4861,"dI":0.0018},{"ph":1.9325,"mag":15.4785,"dI":-0.0066},{"ph":1.9373,"mag":15.4900,"dI":0.0043},
      {"ph":1.9425,"mag":15.4852,"dI":-0.0009},{"ph":1.9473,"mag":15.4826,"dI":-0.0035},{"ph":1.9525,"mag":15.4931,"dI":0.0072},{"ph":1.9573,"mag":15.4839,"dI":-0.0014},
      {"ph":1.9625,"mag":15.4870,"dI":0.0027},{"ph":1.9673,"mag":15.4772,"dI":-0.0058},{"ph":1.9725,"mag":15.4821,"dI":0.0009},{"ph":1.9773,"mag":15.4840,"dI":0.0049},
      {"ph":1.9825,"mag":15.4740,"dI":-0.0028},{"ph":1.9873,"mag":15.4742,"dI":-0.0003},{"ph":1.9925,"mag":15.4777,"dI":0.0055},{"ph":1.9973,"mag":15.4630,"dI":-0.0071},
      {"ph":1.0005,"mag":15.4810,"dI":0.0123},{"ph":1.0500,"mag":15.4330,"dI":-0.0125},{"ph":1.0570,"mag":15.4360,"dI":-0.0083},{"ph":1.0710,"mag":15.4330,"dI":-0.0101},
      {"ph":1.0840,"mag":15.4270,"dI":-0.0163},{"ph":1.0850,"mag":15.4310,"dI":-0.0123},{"ph":1.0950,"mag":15.4320,"dI":-0.0125},{"ph":1.1000,"mag":15.4360,"dI":-0.0092},
      {"ph":1.1100,"mag":15.4280,"dI":-0.0193},{"ph":1.1160,"mag":15.4350,"dI":-0.0137},{"ph":1.1260,"mag":15.4280,"dI":-0.0232},{"ph":1.1560,"mag":15.4370,"dI":-0.0215},
      {"ph":1.1630,"mag":15.4780,"dI":0.0179},{"ph":1.1700,"mag":15.4290,"dI":-0.0326},{"ph":1.1980,"mag":15.4430,"dI":-0.0239},{"ph":1.2140,"mag":15.4920,"dI":0.0228},
      {"ph":1.2260,"mag":15.4920,"dI":0.0211},{"ph":1.2650,"mag":15.4550,"dI":-0.0196},{"ph":1.2810,"mag":15.4920,"dI":0.0165},{"ph":1.2820,"mag":15.5080,"dI":0.0325},
      {"ph":1.2920,"mag":15.4930,"dI":0.0172},{"ph":1.3000,"mag":15.4910,"dI":0.0150},{"ph":1.3160,"mag":15.4920,"dI":0.0158},{"ph":1.3270,"mag":15.4590,"dI":-0.0172},
      {"ph":1.3780,"mag":15.4890,"dI":0.0134},{"ph":1.4000,"mag":15.4880,"dI":0.0130},{"ph":1.4070,"mag":15.4540,"dI":-0.0207},{"ph":1.4075,"mag":15.4560,"dI":-0.0187},
      {"ph":1.4300,"mag":15.4900,"dI":0.0161},{"ph":1.4700,"mag":15.4920,"dI":0.0199},{"ph":1.4810,"mag":15.4560,"dI":-0.0157},{"ph":1.4880,"mag":15.4540,"dI":-0.0175},
      {"ph":1.4910,"mag":15.4890,"dI":0.0176},{"ph":1.5050,"mag":15.5020,"dI":0.0310},{"ph":1.5190,"mag":15.4530,"dI":-0.0175},{"ph":1.5520,"mag":15.4910,"dI":0.0216},
      {"ph":1.5600,"mag":15.4540,"dI":-0.0151},{"ph":1.5950,"mag":15.4500,"dI":-0.0175},{"ph":1.6350,"mag":15.4490,"dI":-0.0167},{"ph":1.6430,"mag":15.4820,"dI":0.0167},
      {"ph":1.7070,"mag":15.4860,"dI":0.0241},{"ph":1.7110,"mag":15.4490,"dI":-0.0126},{"ph":1.7300,"mag":15.4830,"dI":0.0223},{"ph":1.7350,"mag":15.4450,"dI":-0.0156},
      {"ph":1.7470,"mag":15.4330,"dI":-0.0271},{"ph":1.7550,"mag":15.4370,"dI":-0.0228},{"ph":1.7620,"mag":15.4450,"dI":-0.0147},{"ph":1.8020,"mag":15.4480,"dI":-0.0123},
      {"ph":1.8110,"mag":15.4490,"dI":-0.0120},{"ph":1.8120,"mag":15.4790,"dI":0.0179},{"ph":1.8200,"mag":15.4480,"dI":-0.0138},{"ph":1.8340,"mag":15.4470,"dI":-0.0166},
      {"ph":1.8370,"mag":15.4510,"dI":-0.0130},{"ph":1.8480,"mag":15.4490,"dI":-0.0169},{"ph":1.8590,"mag":15.4500,"dI":-0.0183},{"ph":1.9050,"mag":15.4920,"dI":0.0123},
      {"ph":1.9100,"mag":15.4950,"dI":0.0141},{"ph":1.9180,"mag":15.4660,"dI":-0.0166},{"ph":1.9270,"mag":15.5090,"dI":0.0247},{"ph":1.9360,"mag":15.4950,"dI":0.0094},
      {"ph":1.9430,"mag":15.4990,"dI":0.0129},{"ph":1.9470,"mag":15.4950,"dI":0.0088},{"ph":1.9580,"mag":15.4950,"dI":0.0098},{"ph":1.9630,"mag":15.5020,"dI":0.0176},
      {"ph":1.9890,"mag":15.4900,"dI":0.0163},{"ph":1.9985,"mag":15.4540,"dI":-0.0150}
    ],
    "model": [
      {"ph":0.00,"mag":15.4690},{"ph":0.01,"mag":15.4630},{"ph":0.02,"mag":15.4575},{"ph":0.03,"mag":15.4525},{"ph":0.04,"mag":15.4485},{"ph":0.05,"mag":15.4455},{"ph":0.06,"mag":15.4438},{"ph":0.07,"mag":15.4431},{"ph":0.08,"mag":15.4431},{"ph":0.09,"mag":15.4438},
      {"ph":0.10,"mag":15.4452},{"ph":0.11,"mag":15.4473},{"ph":0.12,"mag":15.4497},{"ph":0.13,"mag":15.4522},{"ph":0.14,"mag":15.4547},{"ph":0.15,"mag":15.4570},{"ph":0.16,"mag":15.4594},{"ph":0.17,"mag":15.4616},{"ph":0.18,"mag":15.4638},{"ph":0.19,"mag":15.4656},
      {"ph":0.20,"mag":15.4672},{"ph":0.21,"mag":15.4687},{"ph":0.22,"mag":15.4701},{"ph":0.23,"mag":15.4714},{"ph":0.24,"mag":15.4725},{"ph":0.25,"mag":15.4735},{"ph":0.26,"mag":15.4743},{"ph":0.27,"mag":15.4749},{"ph":0.28,"mag":15.4754},{"ph":0.29,"mag":15.4757},
      {"ph":0.30,"mag":15.4760},{"ph":0.31,"mag":15.4761},{"ph":0.32,"mag":15.4762},{"ph":0.33,"mag":15.4762},{"ph":0.34,"mag":15.4762},{"ph":0.35,"mag":15.4761},{"ph":0.36,"mag":15.4760},{"ph":0.37,"mag":15.4758},{"ph":0.38,"mag":15.4756},{"ph":0.39,"mag":15.4753},
      {"ph":0.40,"mag":15.4750},{"ph":0.41,"mag":15.4746},{"ph":0.42,"mag":15.4743},{"ph":0.43,"mag":15.4739},{"ph":0.44,"mag":15.4734},{"ph":0.45,"mag":15.4730},{"ph":0.46,"mag":15.4726},{"ph":0.47,"mag":15.4721},{"ph":0.48,"mag":15.4717},{"ph":0.49,"mag":15.4714},
      {"ph":0.50,"mag":15.4711},{"ph":0.51,"mag":15.4708},{"ph":0.52,"mag":15.4705},{"ph":0.53,"mag":15.4702},{"ph":0.54,"mag":15.4698},{"ph":0.55,"mag":15.4695},{"ph":0.56,"mag":15.4691},{"ph":0.57,"mag":15.4686},{"ph":0.58,"mag":15.4682},{"ph":0.59,"mag":15.4677},
      {"ph":0.60,"mag":15.4672},{"ph":0.61,"mag":15.4668},{"ph":0.62,"mag":15.4663},{"ph":0.63,"mag":15.4659},{"ph":0.64,"mag":15.4654},{"ph":0.65,"mag":15.4650},{"ph":0.66,"mag":15.4644},{"ph":0.67,"mag":15.4639},{"ph":0.68,"mag":15.4633},{"ph":0.69,"mag":15.4628},
      {"ph":0.70,"mag":15.4622},{"ph":0.71,"mag":15.4617},{"ph":0.72,"mag":15.4612},{"ph":0.73,"mag":15.4607},{"ph":0.74,"mag":15.4604},{"ph":0.75,"mag":15.4600},{"ph":0.76,"mag":15.4597},{"ph":0.77,"mag":15.4595},{"ph":0.78,"mag":15.4595},{"ph":0.79,"mag":15.4597},
      {"ph":0.80,"mag":15.4602},{"ph":0.81,"mag":15.4609},{"ph":0.82,"mag":15.4618},{"ph":0.83,"mag":15.4630},{"ph":0.84,"mag":15.4645},{"ph":0.85,"mag":15.4663},{"ph":0.86,"mag":15.4685},{"ph":0.87,"mag":15.4710},{"ph":0.88,"mag":15.4735},{"ph":0.89,"mag":15.4760},
      {"ph":0.90,"mag":15.4785},{"ph":0.91,"mag":15.4809},{"ph":0.92,"mag":15.4830},{"ph":0.93,"mag":15.4848},{"ph":0.94,"mag":15.4860},{"ph":0.95,"mag":15.4862},{"ph":0.96,"mag":15.4850},{"ph":0.97,"mag":15.4822},{"ph":0.98,"mag":15.4780},{"ph":0.99,"mag":15.4732},
      {"ph":1.00,"mag":15.4690},{"ph":1.01,"mag":15.4630},{"ph":1.02,"mag":15.4575},{"ph":1.03,"mag":15.4525},{"ph":1.04,"mag":15.4485},{"ph":1.05,"mag":15.4455},{"ph":1.06,"mag":15.4438},{"ph":1.07,"mag":15.4431},{"ph":1.08,"mag":15.4431},{"ph":1.09,"mag":15.4438},
      {"ph":1.10,"mag":15.4452},{"ph":1.11,"mag":15.4473},{"ph":1.12,"mag":15.4497},{"ph":1.13,"mag":15.4522},{"ph":1.14,"mag":15.4547},{"ph":1.15,"mag":15.4570},{"ph":1.16,"mag":15.4594},{"ph":1.17,"mag":15.4616},{"ph":1.18,"mag":15.4638},{"ph":1.19,"mag":15.4656},
      {"ph":1.20,"mag":15.4672},{"ph":1.21,"mag":15.4687},{"ph":1.22,"mag":15.4701},{"ph":1.23,"mag":15.4714},{"ph":1.24,"mag":15.4725},{"ph":1.25,"mag":15.4735},{"ph":1.26,"mag":15.4743},{"ph":1.27,"mag":15.4749},{"ph":1.28,"mag":15.4754},{"ph":1.29,"mag":15.4757},
      {"ph":1.30,"mag":15.4760},{"ph":1.31,"mag":15.4761},{"ph":1.32,"mag":15.4762},{"ph":1.33,"mag":15.4762},{"ph":1.34,"mag":15.4762},{"ph":1.35,"mag":15.4761},{"ph":1.36,"mag":15.4760},{"ph":1.37,"mag":15.4758},{"ph":1.38,"mag":15.4756},{"ph":1.39,"mag":15.4753},
      {"ph":1.40,"mag":15.4750},{"ph":1.41,"mag":15.4746},{"ph":1.42,"mag":15.4743},{"ph":1.43,"mag":15.4739},{"ph":1.44,"mag":15.4734},{"ph":1.45,"mag":15.4730},{"ph":1.46,"mag":15.4726},{"ph":1.47,"mag":15.4721},{"ph":1.48,"mag":15.4717},{"ph":1.49,"mag":15.4714},
      {"ph":1.50,"mag":15.4711},{"ph":1.51,"mag":15.4708},{"ph":1.52,"mag":15.4705},{"ph":1.53,"mag":15.4702},{"ph":1.54,"mag":15.4698},{"ph":1.55,"mag":15.4695},{"ph":1.56,"mag":15.4691},{"ph":1.57,"mag":15.4686},{"ph":1.58,"mag":15.4682},{"ph":1.59,"mag":15.4677},
      {"ph":1.60,"mag":15.4672},{"ph":1.61,"mag":15.4668},{"ph":1.62,"mag":15.4663},{"ph":1.63,"mag":15.4659},{"ph":1.64,"mag":15.4654},{"ph":1.65,"mag":15.4650},{"ph":1.66,"mag":15.4644},{"ph":1.67,"mag":15.4639},{"ph":1.68,"mag":15.4633},{"ph":1.69,"mag":15.4628},
      {"ph":1.70,"mag":15.4622},{"ph":1.71,"mag":15.4617},{"ph":1.72,"mag":15.4612},{"ph":1.73,"mag":15.4607},{"ph":1.74,"mag":15.4604},{"ph":1.75,"mag":15.4600},{"ph":1.76,"mag":15.4597},{"ph":1.77,"mag":15.4595},{"ph":1.78,"mag":15.4595},{"ph":1.79,"mag":15.4597},
      {"ph":1.80,"mag":15.4602},{"ph":1.81,"mag":15.4609},{"ph":1.82,"mag":15.4618},{"ph":1.83,"mag":15.4630},{"ph":1.84,"mag":15.4645},{"ph":1.85,"mag":15.4663},{"ph":1.86,"mag":15.4685},{"ph":1.87,"mag":15.4710},{"ph":1.88,"mag":15.4735},{"ph":1.89,"mag":15.4760},
      {"ph":1.90,"mag":15.4785},{"ph":1.91,"mag":15.4809},{"ph":1.92,"mag":15.4830},{"ph":1.93,"mag":15.4848},{"ph":1.94,"mag":15.4860},{"ph":1.95,"mag":15.4862},{"ph":1.96,"mag":15.4850},{"ph":1.97,"mag":15.4822},{"ph":1.98,"mag":15.4780},{"ph":1.99,"mag":15.4732},
      {"ph":2.00,"mag":15.4690}
    ]
  },
  "vconcat": [
    {
      "width": 2222,
      "height": 865,
      "title": {
        "text": "P = 282.9432 d, e = 0.254, i = 43.97°, ω = 125.96°, T₀ = 9274.5332 HJD', S = 0.01387, C = −0.00272",
        "font": "Liberation Serif",
        "fontSize": 38,
        "fontWeight": "normal",
        "color": "black",
        "anchor": "middle",
        "frame": "group",
        "offset": 16
      },
      "layer": [
        {
          "data": {"name": "obs"},
          "mark": {"type": "circle", "size": 150, "color": "black", "opacity": 1},
          "encoding": {
            "x": {
              "field": "ph",
              "type": "quantitative",
              "scale": {"domain": [0, 2], "nice": false, "zero": false},
              "axis": {"values": [0, 0.25, 0.5, 0.75, 1, 1.25, 1.5, 1.75, 2], "labels": false, "title": null}
            },
            "y": {
              "field": "mag",
              "type": "quantitative",
              "scale": {"domain": [15.417, 15.519], "reverse": true, "nice": false, "zero": false},
              "axis": {"values": [15.42, 15.44, 15.46, 15.48, 15.5], "format": ".2f", "title": "I-band magnitude"}
            }
          }
        },
        {
          "data": {"name": "model"},
          "mark": {"type": "line", "color": "#ff0000", "strokeWidth": 18, "strokeCap": "round", "interpolate": "monotone"},
          "encoding": {
            "x": {"field": "ph", "type": "quantitative"},
            "y": {"field": "mag", "type": "quantitative"}
          }
        }
      ]
    },
    {
      "width": 2222,
      "height": 284,
      "layer": [
        {
          "data": {"name": "obs"},
          "mark": {"type": "circle", "size": 150, "color": "black", "opacity": 1},
          "encoding": {
            "x": {
              "field": "ph",
              "type": "quantitative",
              "scale": {"domain": [0, 2], "nice": false, "zero": false},
              "axis": {"values": [0, 0.25, 0.5, 0.75, 1, 1.25, 1.5, 1.75, 2], "format": ".2f", "title": "Orbital phase"}
            },
            "y": {
              "field": "dI",
              "type": "quantitative",
              "scale": {"domain": [-0.0436, 0.0424], "reverse": true, "nice": false, "zero": false},
              "axis": {"values": [-0.025, 0, 0.025], "format": ".3f", "title": "ΔI (mag)"}
            }
          }
        },
        {
          "mark": {"type": "rule", "color": "#ff0000", "strokeWidth": 5, "strokeDash": [20, 9]},
          "encoding": {"y": {"datum": 0}}
        }
      ]
    }
  ]
}
